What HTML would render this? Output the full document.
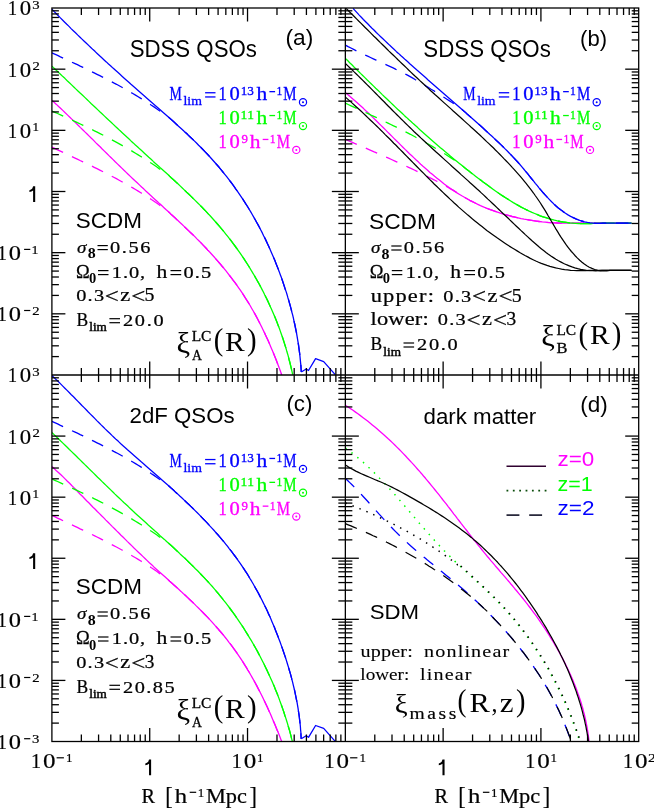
<!DOCTYPE html>
<html><head><meta charset="utf-8"><title>Correlation functions</title>
<style>
html,body{margin:0;padding:0;background:#fff;}
body{width:654px;height:808px;overflow:hidden;font-family:"Liberation Sans",sans-serif;}
svg{display:block;}
</style></head><body>
<svg width="654" height="808" viewBox="0 0 654 808">
<defs>
<clipPath id="ca"><rect x="51.9" y="8.0" width="293.45000000000005" height="367.0"/></clipPath>
<clipPath id="cb"><rect x="345.35" y="8.0" width="293.35" height="367.0"/></clipPath>
<clipPath id="cc"><rect x="51.9" y="375.0" width="293.45000000000005" height="366.5"/></clipPath>
<clipPath id="cd"><rect x="345.35" y="375.0" width="293.35" height="366.5"/></clipPath>
<clipPath id="cdd1"><rect x="345.35" y="375.0" width="112.64999999999998" height="366.5"/></clipPath>
<clipPath id="cdd2"><rect x="458" y="375.0" width="180.70000000000005" height="366.5"/></clipPath>
<clipPath id="cdh1"><rect x="345.35" y="375.0" width="143.64999999999998" height="366.5"/></clipPath>
<clipPath id="cdh2"><rect x="489" y="375.0" width="149.70000000000005" height="366.5"/></clipPath>
</defs>
<rect width="654" height="808" fill="#fff"/>
<g style="opacity:0.9999">
<path d="M51.9,9.2 L54.0,11.4 L56.1,13.5 L58.3,15.7 L60.4,17.9 L62.5,20.0 L64.7,22.2 L66.8,24.3 L69.0,26.4 L71.1,28.6 L73.3,30.7 L75.5,32.8 L77.6,34.9 L79.8,37.0 L82.0,39.1 L84.2,41.2 L86.4,43.3 L88.6,45.4 L90.8,47.5 L93.0,49.6 L95.2,51.6 L97.4,53.7 L99.6,55.8 L101.8,57.8 L104.1,59.9 L106.3,61.9 L108.5,64.0 L110.8,66.0 L113.0,68.1 L115.2,70.1 L117.5,72.1 L119.7,74.1 L122.0,76.2 L124.2,78.2 L126.5,80.2 L128.8,82.2 L131.0,84.3 L133.3,86.3 L135.6,88.3 L137.8,90.3 L140.1,92.3 L142.4,94.3 L144.7,96.3 L146.9,98.3 L149.2,100.3 L151.5,102.3 L153.8,104.3 L156.1,106.3 L158.4,108.3 L160.7,110.3 L162.9,112.3 L165.2,114.3 L167.5,116.3 L169.8,118.3 L172.1,120.3 L174.3,122.3 L176.6,124.4 L178.8,126.4 L181.1,128.5 L183.3,130.5 L185.5,132.6 L187.7,134.6 L189.9,136.7 L192.1,138.8 L194.3,140.9 L196.5,143.0 L198.6,145.2 L200.7,147.3 L202.9,149.5 L204.9,151.6 L207.0,153.8 L209.1,156.0 L211.1,158.2 L213.1,160.5 L215.1,162.8 L217.1,165.0 L219.1,167.3 L221.0,169.6 L222.9,172.0 L224.8,174.3 L226.7,176.7 L228.6,179.1 L230.4,181.5 L232.2,183.9 L234.0,186.3 L235.7,188.8 L237.5,191.3 L239.2,193.8 L240.9,196.3 L242.6,198.8 L244.2,201.3 L245.8,203.9 L247.5,206.5 L249.0,209.0 L250.6,211.6 L252.1,214.3 L253.6,216.9 L255.1,219.5 L256.6,222.2 L258.1,224.9 L259.5,227.5 L260.9,230.2 L262.3,232.9 L263.6,235.7 L265.0,238.4 L266.3,241.1 L267.6,243.9 L268.8,246.6 L270.1,249.4 L271.3,252.2 L272.5,255.0 L273.7,257.8 L274.9,260.6 L276.0,263.4 L277.1,266.2 L278.2,269.1 L279.3,271.9 L280.3,274.7 L281.4,277.6 L282.4,280.5 L283.3,283.3 L284.3,286.2 L285.2,289.1 L286.2,291.9 L287.1,294.8 L287.9,297.7 L288.8,300.6 L289.6,303.5 L290.4,306.4 L291.2,309.4 L291.9,312.3 L292.7,315.2 L293.4,318.2 L294.0,321.1 L294.7,324.0 L295.3,327.0 L295.9,330.0 L296.5,332.9 L297.0,335.9 L297.5,338.9 L298.0,341.8 L298.5,344.8 L298.9,347.8 L299.3,350.8 L299.7,353.8 L300.0,356.8 L300.3,359.9 L300.6,362.9 L300.9,365.9 L301.1,369.0 L301.3,372.0" fill="none" stroke="#0000ff" stroke-width="1.3" stroke-linejoin="round" stroke-linecap="butt" clip-path="url(#ca)"/>
<path d="M301.3,372.0 L306.2,369.0 L308.5,370.5 L315.6,358.7 L323.7,361.6 L335.2,374.6" fill="none" stroke="#0000ff" stroke-width="1.3" stroke-linejoin="round" stroke-linecap="butt" clip-path="url(#ca)"/>
<path d="M51.9,66.1 L54.1,68.2 L56.3,70.3 L58.5,72.4 L60.7,74.5 L62.9,76.6 L65.1,78.6 L67.2,80.7 L69.4,82.8 L71.6,84.9 L73.8,87.0 L76.0,89.1 L78.2,91.2 L80.4,93.3 L82.6,95.3 L84.8,97.4 L87.0,99.5 L89.2,101.6 L91.3,103.7 L93.5,105.7 L95.7,107.8 L97.9,109.9 L100.1,112.0 L102.3,114.0 L104.5,116.1 L106.7,118.2 L108.9,120.3 L111.1,122.3 L113.3,124.4 L115.5,126.5 L117.7,128.5 L119.9,130.6 L122.2,132.7 L124.4,134.7 L126.6,136.8 L128.8,138.8 L131.0,140.9 L133.2,142.9 L135.4,145.0 L137.7,147.0 L139.9,149.1 L142.1,151.1 L144.4,153.2 L146.6,155.2 L148.8,157.3 L151.1,159.3 L153.3,161.4 L155.5,163.4 L157.8,165.4 L160.0,167.5 L162.3,169.5 L164.5,171.5 L166.8,173.6 L169.0,175.6 L171.2,177.7 L173.5,179.7 L175.7,181.8 L177.9,183.8 L180.1,185.9 L182.3,188.0 L184.5,190.1 L186.7,192.2 L188.9,194.2 L191.1,196.4 L193.2,198.5 L195.4,200.6 L197.5,202.7 L199.7,204.9 L201.8,207.0 L203.9,209.2 L206.0,211.4 L208.0,213.6 L210.1,215.8 L212.1,218.0 L214.1,220.2 L216.1,222.5 L218.1,224.8 L220.1,227.1 L222.0,229.4 L223.9,231.7 L225.8,234.1 L227.7,236.4 L229.6,238.8 L231.4,241.2 L233.2,243.6 L235.0,246.0 L236.8,248.5 L238.5,250.9 L240.3,253.4 L242.0,255.9 L243.7,258.4 L245.3,260.9 L247.0,263.5 L248.6,266.0 L250.2,268.6 L251.7,271.2 L253.3,273.8 L254.8,276.4 L256.3,279.0 L257.8,281.6 L259.3,284.3 L260.7,286.9 L262.1,289.6 L263.5,292.3 L264.8,295.0 L266.2,297.7 L267.5,300.4 L268.8,303.2 L270.0,305.9 L271.3,308.7 L272.5,311.4 L273.7,314.2 L274.9,317.0 L276.0,319.8 L277.1,322.6 L278.2,325.5 L279.3,328.3 L280.3,331.1 L281.3,334.0 L282.3,336.8 L283.3,339.7 L284.2,342.6 L285.1,345.5 L286.0,348.4 L286.8,351.3 L287.7,354.2 L288.5,357.1 L289.2,360.0 L290.0,363.0 L290.7,365.9 L291.4,368.9 L292.1,371.8 L292.7,374.8" fill="none" stroke="#00ff00" stroke-width="1.3" stroke-linejoin="round" stroke-linecap="butt" clip-path="url(#ca)"/>
<path d="M51.9,100.2 L54.1,102.3 L56.4,104.4 L58.6,106.5 L60.8,108.5 L63.0,110.6 L65.2,112.8 L67.4,114.9 L69.6,117.0 L71.8,119.1 L74.0,121.2 L76.2,123.3 L78.4,125.5 L80.5,127.6 L82.7,129.7 L84.9,131.9 L87.1,134.0 L89.2,136.1 L91.4,138.3 L93.6,140.4 L95.7,142.6 L97.9,144.7 L100.1,146.8 L102.2,149.0 L104.4,151.1 L106.6,153.2 L108.7,155.4 L110.9,157.5 L113.1,159.6 L115.2,161.8 L117.4,163.9 L119.6,166.0 L121.8,168.1 L124.0,170.3 L126.2,172.4 L128.4,174.5 L130.6,176.6 L132.8,178.7 L135.0,180.8 L137.2,182.8 L139.4,184.9 L141.6,187.0 L143.9,189.1 L146.1,191.2 L148.3,193.2 L150.5,195.3 L152.8,197.4 L155.0,199.4 L157.3,201.5 L159.5,203.6 L161.7,205.6 L164.0,207.7 L166.2,209.8 L168.5,211.8 L170.7,213.9 L173.0,216.0 L175.2,218.0 L177.4,220.1 L179.7,222.2 L181.9,224.3 L184.1,226.4 L186.3,228.5 L188.5,230.6 L190.7,232.7 L192.9,234.8 L195.1,236.9 L197.2,239.1 L199.4,241.3 L201.5,243.4 L203.6,245.6 L205.7,247.8 L207.8,250.1 L209.9,252.3 L211.9,254.5 L214.0,256.8 L216.0,259.1 L218.0,261.4 L220.0,263.7 L221.9,266.0 L223.9,268.3 L225.8,270.7 L227.7,273.1 L229.5,275.5 L231.4,277.9 L233.2,280.3 L235.0,282.7 L236.8,285.2 L238.5,287.7 L240.3,290.2 L242.0,292.7 L243.6,295.2 L245.3,297.8 L246.9,300.3 L248.5,302.9 L250.1,305.5 L251.6,308.2 L253.1,310.8 L254.6,313.4 L256.1,316.1 L257.5,318.8 L258.9,321.5 L260.3,324.2 L261.7,327.0 L263.0,329.7 L264.3,332.4 L265.6,335.2 L266.9,338.0 L268.2,340.8 L269.4,343.6 L270.6,346.4 L271.8,349.2 L273.0,352.0 L274.1,354.8 L275.3,357.7 L276.4,360.5 L277.5,363.4 L278.6,366.2 L279.6,369.1 L280.7,371.9 L281.7,374.8" fill="none" stroke="#ff00ff" stroke-width="1.3" stroke-linejoin="round" stroke-linecap="butt" clip-path="url(#ca)"/>
<path d="M51.9,52.8 L54.7,54.1 L57.6,55.4 L60.4,56.8 L63.2,58.1 L66.1,59.4 L68.9,60.7 L71.7,62.1 L74.5,63.4 L77.4,64.7 L80.2,66.1 L83.0,67.4 L85.8,68.8 L88.6,70.1 L91.4,71.5 L94.2,72.9 L97.0,74.3 L99.8,75.7 L102.6,77.1 L105.4,78.5 L108.2,80.0 L111.0,81.4 L113.7,82.9 L116.5,84.3 L119.2,85.8 L121.9,87.3 L124.7,88.9 L127.4,90.4 L130.1,92.0 L132.8,93.5 L135.5,95.1 L138.2,96.8 L140.8,98.4 L143.5,100.0 L146.1,101.7 L148.8,103.4 L151.4,105.2 L154.0,106.9 L156.6,108.7 L159.1,110.5 L167.5,116.3 L169.8,118.3 L172.1,120.3 L174.3,122.3 L176.6,124.4 L178.8,126.4 L181.1,128.5 L183.3,130.5 L185.5,132.6 L187.7,134.6 L189.9,136.7 L192.1,138.8 L194.3,140.9 L196.5,143.0 L198.6,145.2 L200.7,147.3 L202.9,149.5 L204.9,151.6 L207.0,153.8 L209.1,156.0 L211.1,158.2 L213.1,160.5 L215.1,162.8 L217.1,165.0 L219.1,167.3 L221.0,169.6 L222.9,172.0 L224.8,174.3 L226.7,176.7 L228.6,179.1 L230.4,181.5 L232.2,183.9 L234.0,186.3 L235.7,188.8 L237.5,191.3 L239.2,193.8 L240.9,196.3 L242.6,198.8 L244.2,201.3 L245.8,203.9 L247.5,206.5 L249.0,209.0 L250.6,211.6 L252.1,214.3 L253.6,216.9 L255.1,219.5 L256.6,222.2 L258.1,224.9 L259.5,227.5 L260.9,230.2 L262.3,232.9 L263.6,235.7 L265.0,238.4 L266.3,241.1 L267.6,243.9 L268.8,246.6 L270.1,249.4 L271.3,252.2 L272.5,255.0 L273.7,257.8 L274.9,260.6 L276.0,263.4 L277.1,266.2 L278.2,269.1 L279.3,271.9 L280.3,274.7 L281.4,277.6 L282.4,280.5 L283.3,283.3 L284.3,286.2 L285.2,289.1 L286.2,291.9 L287.1,294.8 L287.9,297.7 L288.8,300.6 L289.6,303.5 L290.4,306.4 L291.2,309.4 L291.9,312.3 L292.7,315.2 L293.4,318.2 L294.0,321.1 L294.7,324.0 L295.3,327.0 L295.9,330.0 L296.5,332.9 L297.0,335.9 L297.5,338.9 L298.0,341.8 L298.5,344.8 L298.9,347.8 L299.3,350.8 L299.7,353.8 L300.0,356.8 L300.3,359.9 L300.6,362.9 L300.9,365.9 L301.1,369.0 L301.3,372.0" fill="none" stroke="#0000ff" stroke-width="1.3" stroke-linejoin="round" stroke-linecap="butt" stroke-dasharray="12.4 9.8" stroke-dashoffset="0" clip-path="url(#ca)"/>
<path d="M51.9,111.0 L54.8,112.3 L57.6,113.5 L60.5,114.8 L63.3,116.1 L66.2,117.4 L69.0,118.7 L71.8,120.0 L74.7,121.3 L77.5,122.7 L80.3,124.0 L83.2,125.3 L86.0,126.7 L88.8,128.0 L91.6,129.4 L94.4,130.8 L97.2,132.2 L100.0,133.6 L102.8,135.0 L105.5,136.5 L108.3,137.9 L111.1,139.4 L113.8,140.9 L116.6,142.4 L119.3,143.9 L122.0,145.4 L124.7,146.9 L127.5,148.5 L130.2,150.0 L132.8,151.6 L135.5,153.2 L138.2,154.9 L140.8,156.5 L143.5,158.2 L146.1,159.9 L148.8,161.6 L151.4,163.3 L154.0,165.0 L156.6,166.8 L159.1,168.6 L166.8,173.6 L169.0,175.6 L171.2,177.7 L173.5,179.7 L175.7,181.8 L177.9,183.8 L180.1,185.9 L182.3,188.0 L184.5,190.1 L186.7,192.2 L188.9,194.2 L191.1,196.4 L193.2,198.5 L195.4,200.6 L197.5,202.7 L199.7,204.9 L201.8,207.0 L203.9,209.2 L206.0,211.4 L208.0,213.6 L210.1,215.8 L212.1,218.0 L214.1,220.2 L216.1,222.5 L218.1,224.8 L220.1,227.1 L222.0,229.4 L223.9,231.7 L225.8,234.1 L227.7,236.4 L229.6,238.8 L231.4,241.2 L233.2,243.6 L235.0,246.0 L236.8,248.5 L238.5,250.9 L240.3,253.4 L242.0,255.9 L243.7,258.4 L245.3,260.9 L247.0,263.5 L248.6,266.0 L250.2,268.6 L251.7,271.2 L253.3,273.8 L254.8,276.4 L256.3,279.0 L257.8,281.6 L259.3,284.3 L260.7,286.9 L262.1,289.6 L263.5,292.3 L264.8,295.0 L266.2,297.7 L267.5,300.4 L268.8,303.2 L270.0,305.9 L271.3,308.7 L272.5,311.4 L273.7,314.2 L274.9,317.0 L276.0,319.8 L277.1,322.6 L278.2,325.5 L279.3,328.3 L280.3,331.1 L281.3,334.0 L282.3,336.8 L283.3,339.7 L284.2,342.6 L285.1,345.5 L286.0,348.4 L286.8,351.3 L287.7,354.2 L288.5,357.1 L289.2,360.0 L290.0,363.0 L290.7,365.9 L291.4,368.9 L292.1,371.8 L292.7,374.8" fill="none" stroke="#00ff00" stroke-width="1.3" stroke-linejoin="round" stroke-linecap="butt" stroke-dasharray="12.4 9.8" stroke-dashoffset="0" clip-path="url(#ca)"/>
<path d="M51.9,147.1 L54.7,148.4 L57.5,149.8 L60.4,151.1 L63.2,152.5 L66.0,153.8 L68.8,155.1 L71.7,156.5 L74.5,157.8 L77.3,159.1 L80.1,160.5 L82.9,161.8 L85.8,163.2 L88.6,164.6 L91.4,165.9 L94.2,167.3 L97.0,168.7 L99.8,170.1 L102.6,171.5 L105.4,172.9 L108.1,174.4 L110.9,175.8 L113.7,177.3 L116.4,178.7 L119.2,180.2 L121.9,181.7 L124.7,183.2 L127.4,184.8 L130.1,186.3 L132.8,187.9 L135.5,189.5 L138.2,191.1 L140.8,192.7 L143.5,194.4 L146.1,196.0 L148.8,197.7 L151.4,199.5 L154.0,201.2 L156.6,203.0 L159.1,204.8 L166.2,209.8 L168.5,211.8 L170.7,213.9 L173.0,216.0 L175.2,218.0 L177.4,220.1 L179.7,222.2 L181.9,224.3 L184.1,226.4 L186.3,228.5 L188.5,230.6 L190.7,232.7 L192.9,234.8 L195.1,236.9 L197.2,239.1 L199.4,241.3 L201.5,243.4 L203.6,245.6 L205.7,247.8 L207.8,250.1 L209.9,252.3 L211.9,254.5 L214.0,256.8 L216.0,259.1 L218.0,261.4 L220.0,263.7 L221.9,266.0 L223.9,268.3 L225.8,270.7 L227.7,273.1 L229.5,275.5 L231.4,277.9 L233.2,280.3 L235.0,282.7 L236.8,285.2 L238.5,287.7 L240.3,290.2 L242.0,292.7 L243.6,295.2 L245.3,297.8 L246.9,300.3 L248.5,302.9 L250.1,305.5 L251.6,308.2 L253.1,310.8 L254.6,313.4 L256.1,316.1 L257.5,318.8 L258.9,321.5 L260.3,324.2 L261.7,327.0 L263.0,329.7 L264.3,332.4 L265.6,335.2 L266.9,338.0 L268.2,340.8 L269.4,343.6 L270.6,346.4 L271.8,349.2 L273.0,352.0 L274.1,354.8 L275.3,357.7 L276.4,360.5 L277.5,363.4 L278.6,366.2 L279.6,369.1 L280.7,371.9 L281.7,374.8" fill="none" stroke="#ff00ff" stroke-width="1.3" stroke-linejoin="round" stroke-linecap="butt" stroke-dasharray="12.4 9.8" stroke-dashoffset="0" clip-path="url(#ca)"/>
<path d="M51.9,375.5 L54.1,377.6 L56.3,379.7 L58.5,381.8 L60.6,383.9 L62.8,386.1 L64.9,388.2 L67.1,390.4 L69.2,392.5 L71.3,394.7 L73.5,396.8 L75.6,399.0 L77.7,401.1 L79.8,403.3 L81.9,405.5 L84.1,407.6 L86.2,409.8 L88.3,412.0 L90.4,414.1 L92.6,416.3 L94.7,418.4 L96.8,420.6 L99.0,422.7 L101.1,424.9 L103.3,427.0 L105.4,429.1 L107.6,431.2 L109.8,433.3 L111.9,435.4 L114.1,437.5 L116.3,439.6 L118.6,441.6 L120.8,443.7 L123.0,445.7 L125.3,447.7 L127.5,449.8 L129.8,451.8 L132.1,453.8 L134.3,455.8 L136.6,457.8 L138.9,459.8 L141.2,461.8 L143.5,463.7 L145.7,465.7 L148.0,467.7 L150.3,469.7 L152.6,471.7 L154.9,473.7 L157.2,475.7 L159.5,477.7 L161.7,479.7 L164.0,481.7 L166.3,483.7 L168.6,485.7 L170.8,487.8 L173.1,489.8 L175.3,491.9 L177.6,493.9 L179.8,496.0 L182.0,498.0 L184.2,500.1 L186.4,502.2 L188.6,504.3 L190.8,506.4 L193.0,508.5 L195.1,510.6 L197.3,512.8 L199.4,514.9 L201.5,517.1 L203.6,519.3 L205.7,521.4 L207.8,523.6 L209.8,525.9 L211.9,528.1 L213.9,530.3 L215.9,532.6 L217.9,534.8 L219.9,537.1 L221.8,539.4 L223.8,541.7 L225.7,544.1 L227.6,546.4 L229.4,548.8 L231.3,551.2 L233.1,553.6 L234.9,556.0 L236.7,558.4 L238.4,560.9 L240.2,563.4 L241.9,565.9 L243.6,568.4 L245.2,570.9 L246.9,573.4 L248.5,576.0 L250.0,578.6 L251.6,581.2 L253.1,583.8 L254.6,586.5 L256.1,589.1 L257.6,591.8 L259.0,594.4 L260.4,597.1 L261.8,599.8 L263.2,602.6 L264.5,605.3 L265.9,608.0 L267.2,610.8 L268.4,613.6 L269.7,616.3 L270.9,619.1 L272.1,621.9 L273.3,624.7 L274.5,627.5 L275.6,630.4 L276.7,633.2 L277.8,636.0 L278.9,638.9 L280.0,641.7 L281.0,644.6 L282.0,647.4 L283.0,650.3 L284.0,653.2 L285.0,656.1 L285.9,658.9 L286.8,661.8 L287.7,664.7 L288.6,667.6 L289.4,670.5 L290.3,673.4 L291.1,676.3 L291.8,679.2 L292.6,682.1 L293.3,685.1 L294.0,688.0 L294.7,690.9 L295.3,693.9 L295.9,696.8 L296.5,699.8 L297.1,702.7 L297.6,705.7 L298.1,708.7 L298.5,711.7 L299.0,714.7 L299.4,717.7 L299.7,720.7 L300.1,723.7 L300.4,726.7 L300.6,729.7 L300.9,732.8 L301.0,735.8 L301.2,738.9" fill="none" stroke="#0000ff" stroke-width="1.3" stroke-linejoin="round" stroke-linecap="butt" clip-path="url(#cc)"/>
<path d="M301.3,738.8 L306.2,735.8 L308.5,737.3 L315.6,725.5 L323.7,728.4 L335.2,741.4" fill="none" stroke="#0000ff" stroke-width="1.3" stroke-linejoin="round" stroke-linecap="butt" clip-path="url(#cc)"/>
<path d="M51.9,432.5 L54.1,434.6 L56.3,436.7 L58.5,438.8 L60.7,441.0 L62.9,443.1 L65.1,445.2 L67.2,447.3 L69.4,449.5 L71.6,451.6 L73.8,453.7 L75.9,455.8 L78.1,458.0 L80.3,460.1 L82.4,462.2 L84.6,464.4 L86.8,466.5 L88.9,468.6 L91.1,470.8 L93.3,472.9 L95.4,475.0 L97.6,477.2 L99.8,479.3 L101.9,481.4 L104.1,483.5 L106.3,485.6 L108.5,487.8 L110.7,489.9 L112.9,492.0 L115.0,494.1 L117.2,496.2 L119.4,498.3 L121.6,500.4 L123.8,502.5 L126.1,504.6 L128.3,506.6 L130.5,508.7 L132.7,510.8 L135.0,512.9 L137.2,514.9 L139.5,517.0 L141.7,519.0 L144.0,521.1 L146.2,523.1 L148.5,525.2 L150.8,527.2 L153.0,529.2 L155.3,531.3 L157.6,533.3 L159.8,535.4 L162.1,537.4 L164.4,539.4 L166.6,541.5 L168.9,543.5 L171.2,545.6 L173.4,547.6 L175.7,549.7 L177.9,551.8 L180.1,553.9 L182.3,555.9 L184.6,558.0 L186.8,560.1 L188.9,562.2 L191.1,564.4 L193.3,566.5 L195.4,568.7 L197.6,570.8 L199.7,573.0 L201.8,575.2 L203.9,577.4 L206.0,579.6 L208.0,581.8 L210.1,584.1 L212.1,586.3 L214.1,588.6 L216.0,590.9 L218.0,593.2 L219.9,595.6 L221.8,597.9 L223.7,600.3 L225.6,602.7 L227.5,605.1 L229.3,607.5 L231.1,610.0 L232.9,612.4 L234.7,614.9 L236.4,617.4 L238.1,619.9 L239.8,622.4 L241.5,624.9 L243.2,627.4 L244.8,630.0 L246.4,632.6 L248.0,635.2 L249.6,637.8 L251.2,640.4 L252.7,643.0 L254.2,645.6 L255.7,648.3 L257.2,650.9 L258.6,653.6 L260.0,656.3 L261.4,659.0 L262.8,661.7 L264.2,664.4 L265.5,667.2 L266.8,669.9 L268.1,672.7 L269.4,675.5 L270.6,678.2 L271.9,681.0 L273.1,683.8 L274.3,686.6 L275.4,689.4 L276.6,692.3 L277.7,695.1 L278.8,697.9 L279.8,700.8 L280.9,703.7 L281.9,706.5 L282.9,709.4 L283.9,712.3 L284.8,715.2 L285.8,718.1 L286.7,721.0 L287.6,723.9 L288.4,726.8 L289.3,729.7 L290.1,732.7 L290.9,735.6 L291.6,738.6 L292.4,741.5" fill="none" stroke="#00ff00" stroke-width="1.3" stroke-linejoin="round" stroke-linecap="butt" clip-path="url(#cc)"/>
<path d="M51.9,466.6 L54.2,468.6 L56.4,470.7 L58.7,472.7 L60.9,474.8 L63.1,476.9 L65.3,479.1 L67.4,481.2 L69.6,483.3 L71.7,485.5 L73.9,487.6 L76.0,489.8 L78.1,492.0 L80.2,494.2 L82.4,496.3 L84.5,498.5 L86.6,500.7 L88.8,502.8 L90.9,505.0 L93.0,507.2 L95.2,509.3 L97.3,511.5 L99.5,513.6 L101.6,515.8 L103.8,517.9 L105.9,520.1 L108.1,522.3 L110.2,524.4 L112.4,526.6 L114.6,528.7 L116.7,530.9 L118.9,533.0 L121.0,535.2 L123.2,537.3 L125.3,539.4 L127.5,541.6 L129.7,543.7 L131.9,545.9 L134.0,548.0 L136.2,550.1 L138.4,552.2 L140.6,554.3 L142.8,556.4 L145.0,558.5 L147.2,560.6 L149.4,562.7 L151.7,564.8 L153.9,566.9 L156.1,568.9 L158.4,571.0 L160.6,573.0 L162.9,575.0 L165.2,577.1 L167.4,579.1 L169.7,581.2 L172.0,583.2 L174.2,585.2 L176.5,587.3 L178.7,589.3 L181.0,591.4 L183.2,593.5 L185.5,595.5 L187.7,597.6 L189.9,599.7 L192.1,601.8 L194.3,603.9 L196.5,606.1 L198.7,608.2 L200.8,610.4 L202.9,612.5 L205.1,614.7 L207.2,616.9 L209.3,619.1 L211.4,621.4 L213.4,623.6 L215.4,625.9 L217.5,628.2 L219.4,630.5 L221.4,632.8 L223.4,635.1 L225.3,637.5 L227.2,639.9 L229.0,642.3 L230.9,644.7 L232.7,647.2 L234.5,649.6 L236.3,652.1 L238.0,654.6 L239.7,657.1 L241.4,659.7 L243.0,662.2 L244.7,664.8 L246.3,667.4 L247.8,670.0 L249.4,672.6 L250.9,675.2 L252.4,677.9 L253.9,680.5 L255.4,683.2 L256.8,685.9 L258.2,688.6 L259.6,691.3 L261.0,694.0 L262.4,696.7 L263.7,699.5 L265.0,702.2 L266.3,705.0 L267.6,707.8 L268.8,710.5 L270.1,713.3 L271.3,716.1 L272.5,718.9 L273.7,721.7 L274.9,724.5 L276.1,727.4 L277.2,730.2 L278.4,733.0 L279.5,735.8 L280.6,738.7 L281.7,741.5" fill="none" stroke="#ff00ff" stroke-width="1.3" stroke-linejoin="round" stroke-linecap="butt" clip-path="url(#cc)"/>
<path d="M51.9,421.3 L54.7,422.6 L57.6,423.9 L60.4,425.3 L63.2,426.6 L66.1,427.9 L68.9,429.2 L71.7,430.6 L74.5,431.9 L77.4,433.2 L80.2,434.6 L83.0,435.9 L85.8,437.3 L88.6,438.6 L91.4,440.0 L94.2,441.4 L97.0,442.8 L99.8,444.2 L102.6,445.6 L105.4,447.0 L108.2,448.5 L111.0,449.9 L113.7,451.4 L116.5,452.8 L119.2,454.3 L121.9,455.8 L124.7,457.4 L127.4,458.9 L130.1,460.5 L132.8,462.0 L135.5,463.6 L138.2,465.3 L140.8,466.9 L143.5,468.5 L146.1,470.2 L148.8,471.9 L151.4,473.7 L154.0,475.4 L156.6,477.2 L159.1,479.0 L166.3,483.7 L168.6,485.7 L170.8,487.8 L173.1,489.8 L175.3,491.9 L177.6,493.9 L179.8,496.0 L182.0,498.0 L184.2,500.1 L186.4,502.2 L188.6,504.3 L190.8,506.4 L193.0,508.5 L195.1,510.6 L197.3,512.8 L199.4,514.9 L201.5,517.1 L203.6,519.3 L205.7,521.4 L207.8,523.6 L209.8,525.9 L211.9,528.1 L213.9,530.3 L215.9,532.6 L217.9,534.8 L219.9,537.1 L221.8,539.4 L223.8,541.7 L225.7,544.1 L227.6,546.4 L229.4,548.8 L231.3,551.2 L233.1,553.6 L234.9,556.0 L236.7,558.4 L238.4,560.9 L240.2,563.4 L241.9,565.9 L243.6,568.4 L245.2,570.9 L246.9,573.4 L248.5,576.0 L250.0,578.6 L251.6,581.2 L253.1,583.8 L254.6,586.5 L256.1,589.1 L257.6,591.8 L259.0,594.4 L260.4,597.1 L261.8,599.8 L263.2,602.6 L264.5,605.3 L265.9,608.0 L267.2,610.8 L268.4,613.6 L269.7,616.3 L270.9,619.1 L272.1,621.9 L273.3,624.7 L274.5,627.5 L275.6,630.4 L276.7,633.2 L277.8,636.0 L278.9,638.9 L280.0,641.7 L281.0,644.6 L282.0,647.4 L283.0,650.3 L284.0,653.2 L285.0,656.1 L285.9,658.9 L286.8,661.8 L287.7,664.7 L288.6,667.6 L289.4,670.5 L290.3,673.4 L291.1,676.3 L291.8,679.2 L292.6,682.1 L293.3,685.1 L294.0,688.0 L294.7,690.9 L295.3,693.9 L295.9,696.8 L296.5,699.8 L297.1,702.7 L297.6,705.7 L298.1,708.7 L298.5,711.7 L299.0,714.7 L299.4,717.7 L299.7,720.7 L300.1,723.7 L300.4,726.7 L300.6,729.7 L300.9,732.8 L301.0,735.8 L301.2,738.9" fill="none" stroke="#0000ff" stroke-width="1.3" stroke-linejoin="round" stroke-linecap="butt" stroke-dasharray="12.4 9.8" stroke-dashoffset="0" clip-path="url(#cc)"/>
<path d="M51.9,479.0 L54.8,480.3 L57.6,481.5 L60.5,482.8 L63.3,484.1 L66.2,485.4 L69.0,486.7 L71.8,488.0 L74.7,489.3 L77.5,490.7 L80.3,492.0 L83.2,493.3 L86.0,494.7 L88.8,496.0 L91.6,497.4 L94.4,498.8 L97.2,500.2 L100.0,501.6 L102.8,503.0 L105.5,504.5 L108.3,505.9 L111.1,507.4 L113.8,508.9 L116.6,510.4 L119.3,511.9 L122.0,513.4 L124.7,514.9 L127.5,516.5 L130.2,518.0 L132.8,519.6 L135.5,521.2 L138.2,522.9 L140.8,524.5 L143.5,526.2 L146.1,527.9 L148.8,529.6 L151.4,531.3 L154.0,533.0 L156.6,534.8 L159.1,536.6 L166.6,541.5 L168.9,543.5 L171.2,545.6 L173.4,547.6 L175.7,549.7 L177.9,551.8 L180.1,553.9 L182.3,555.9 L184.6,558.0 L186.8,560.1 L188.9,562.2 L191.1,564.4 L193.3,566.5 L195.4,568.7 L197.6,570.8 L199.7,573.0 L201.8,575.2 L203.9,577.4 L206.0,579.6 L208.0,581.8 L210.1,584.1 L212.1,586.3 L214.1,588.6 L216.0,590.9 L218.0,593.2 L219.9,595.6 L221.8,597.9 L223.7,600.3 L225.6,602.7 L227.5,605.1 L229.3,607.5 L231.1,610.0 L232.9,612.4 L234.7,614.9 L236.4,617.4 L238.1,619.9 L239.8,622.4 L241.5,624.9 L243.2,627.4 L244.8,630.0 L246.4,632.6 L248.0,635.2 L249.6,637.8 L251.2,640.4 L252.7,643.0 L254.2,645.6 L255.7,648.3 L257.2,650.9 L258.6,653.6 L260.0,656.3 L261.4,659.0 L262.8,661.7 L264.2,664.4 L265.5,667.2 L266.8,669.9 L268.1,672.7 L269.4,675.5 L270.6,678.2 L271.9,681.0 L273.1,683.8 L274.3,686.6 L275.4,689.4 L276.6,692.3 L277.7,695.1 L278.8,697.9 L279.8,700.8 L280.9,703.7 L281.9,706.5 L282.9,709.4 L283.9,712.3 L284.8,715.2 L285.8,718.1 L286.7,721.0 L287.6,723.9 L288.4,726.8 L289.3,729.7 L290.1,732.7 L290.9,735.6 L291.6,738.6 L292.4,741.5" fill="none" stroke="#00ff00" stroke-width="1.3" stroke-linejoin="round" stroke-linecap="butt" stroke-dasharray="12.4 9.8" stroke-dashoffset="0" clip-path="url(#cc)"/>
<path d="M51.9,515.4 L54.7,516.7 L57.5,518.1 L60.4,519.4 L63.2,520.8 L66.0,522.1 L68.8,523.4 L71.7,524.8 L74.5,526.1 L77.3,527.4 L80.1,528.8 L82.9,530.1 L85.8,531.5 L88.6,532.9 L91.4,534.2 L94.2,535.6 L97.0,537.0 L99.8,538.4 L102.6,539.8 L105.4,541.2 L108.1,542.7 L110.9,544.1 L113.7,545.6 L116.4,547.0 L119.2,548.5 L121.9,550.0 L124.7,551.5 L127.4,553.1 L130.1,554.6 L132.8,556.2 L135.5,557.8 L138.2,559.4 L140.8,561.0 L143.5,562.7 L146.1,564.3 L148.8,566.0 L151.4,567.8 L154.0,569.5 L156.6,571.3 L159.1,573.1 L167.4,579.1 L169.7,581.2 L172.0,583.2 L174.2,585.2 L176.5,587.3 L178.7,589.3 L181.0,591.4 L183.2,593.5 L185.5,595.5 L187.7,597.6 L189.9,599.7 L192.1,601.8 L194.3,603.9 L196.5,606.1 L198.7,608.2 L200.8,610.4 L202.9,612.5 L205.1,614.7 L207.2,616.9 L209.3,619.1 L211.4,621.4 L213.4,623.6 L215.4,625.9 L217.5,628.2 L219.4,630.5 L221.4,632.8 L223.4,635.1 L225.3,637.5 L227.2,639.9 L229.0,642.3 L230.9,644.7 L232.7,647.2 L234.5,649.6 L236.3,652.1 L238.0,654.6 L239.7,657.1 L241.4,659.7 L243.0,662.2 L244.7,664.8 L246.3,667.4 L247.8,670.0 L249.4,672.6 L250.9,675.2 L252.4,677.9 L253.9,680.5 L255.4,683.2 L256.8,685.9 L258.2,688.6 L259.6,691.3 L261.0,694.0 L262.4,696.7 L263.7,699.5 L265.0,702.2 L266.3,705.0 L267.6,707.8 L268.8,710.5 L270.1,713.3 L271.3,716.1 L272.5,718.9 L273.7,721.7 L274.9,724.5 L276.1,727.4 L277.2,730.2 L278.4,733.0 L279.5,735.8 L280.6,738.7 L281.7,741.5" fill="none" stroke="#ff00ff" stroke-width="1.3" stroke-linejoin="round" stroke-linecap="butt" stroke-dasharray="12.4 9.8" stroke-dashoffset="0" clip-path="url(#cc)"/>
<path d="M345.4,92.5 L347.7,94.5 L350.0,96.4 L352.3,98.4 L354.6,100.4 L356.9,102.5 L359.1,104.5 L361.4,106.6 L363.6,108.6 L365.8,110.7 L368.1,112.8 L370.3,114.9 L372.5,117.1 L374.7,119.2 L376.8,121.3 L379.0,123.5 L381.2,125.6 L383.4,127.8 L385.5,129.9 L387.7,132.1 L389.9,134.3 L392.0,136.4 L394.2,138.6 L396.4,140.8 L398.6,142.9 L400.8,145.1 L402.9,147.2 L405.1,149.4 L407.3,151.5 L409.5,153.7 L411.8,155.8 L414.0,157.9 L416.2,160.0 L418.5,162.1 L420.7,164.2 L423.0,166.3 L425.3,168.3 L427.6,170.3 L429.9,172.4 L432.3,174.3 L434.6,176.3 L437.0,178.2 L439.4,180.1 L441.8,182.0 L444.2,183.9 L446.6,185.7 L449.1,187.5 L451.6,189.2 L454.1,190.9 L456.6,192.6 L459.2,194.2 L461.8,195.8 L464.4,197.3 L467.0,198.8 L469.7,200.3 L472.4,201.7 L475.1,203.0 L477.8,204.3 L480.5,205.6 L483.3,206.8 L486.1,208.0 L488.9,209.1 L491.8,210.2 L494.6,211.2 L497.5,212.2 L500.4,213.2 L503.3,214.1 L506.2,214.9 L509.2,215.7 L512.1,216.5 L515.1,217.2 L518.1,217.9 L521.1,218.6 L524.1,219.2 L527.1,219.7 L530.1,220.2 L533.2,220.7 L536.2,221.1 L539.2,221.5 L542.3,221.9 L545.3,222.2 L548.4,222.5 L551.5,222.7 L554.5,222.9 L557.6,223.0 L560.7,223.1 L563.7,223.2 L566.8,223.2 L569.9,223.2 L572.9,223.2 L576.0,223.1 L631.5,223.1" fill="none" stroke="#ff00ff" stroke-width="1.3" stroke-linejoin="round" stroke-linecap="butt" clip-path="url(#cb)"/>
<path d="M345.4,139.4 L348.3,140.7 L351.2,141.9 L354.0,143.2 L356.9,144.4 L359.8,145.6 L362.7,146.9 L365.6,148.1 L368.5,149.4 L371.3,150.6 L374.2,151.9 L377.1,153.1 L380.0,154.4 L382.9,155.7 L385.7,156.9 L388.6,158.2 L391.5,159.5 L394.4,160.8 L397.2,162.1 L400.1,163.4 L402.9,164.7 L405.8,166.0 L408.6,167.3 L411.5,168.7 L414.3,170.0 L417.1,171.4 L420.0,172.8 L422.8,174.2 L425.6,175.6 L428.4,177.0 L431.2,178.4 L434.0,179.8 L436.8,181.3 L439.5,182.8 L442.3,184.3 L445.1,185.8 L447.8,187.3 L450.5,188.9 L453.3,190.4 L456.0,192.0 L464.4,197.3 L467.0,198.8 L469.7,200.3 L472.4,201.7 L475.1,203.0 L477.8,204.3 L480.5,205.6 L483.3,206.8 L486.1,208.0 L488.9,209.1 L491.8,210.2 L494.6,211.2 L497.5,212.2 L500.4,213.2 L503.3,214.1 L506.2,214.9 L509.2,215.7 L512.1,216.5 L515.1,217.2 L518.1,217.9 L521.1,218.6 L524.1,219.2 L527.1,219.7 L530.1,220.2 L533.2,220.7 L536.2,221.1 L539.2,221.5 L542.3,221.9 L545.3,222.2 L548.4,222.5 L551.5,222.7 L554.5,222.9 L557.6,223.0 L560.7,223.1 L563.7,223.2 L566.8,223.2 L569.9,223.2 L572.9,223.2 L576.0,223.1 L631.5,223.1" fill="none" stroke="#ff00ff" stroke-width="1.3" stroke-linejoin="round" stroke-linecap="butt" stroke-dasharray="12.4 9.8" stroke-dashoffset="0" clip-path="url(#cb)"/>
<path d="M345.4,58.4 L347.6,60.5 L349.7,62.7 L351.9,64.8 L354.0,67.0 L356.2,69.1 L358.4,71.2 L360.5,73.4 L362.7,75.5 L364.9,77.6 L367.0,79.8 L369.2,81.9 L371.4,84.0 L373.6,86.1 L375.7,88.2 L377.9,90.3 L380.1,92.4 L382.3,94.6 L384.5,96.7 L386.7,98.7 L388.8,100.8 L391.0,102.9 L393.2,105.0 L395.4,107.1 L397.6,109.2 L399.9,111.2 L402.1,113.3 L404.3,115.4 L406.5,117.4 L408.7,119.5 L411.0,121.5 L413.2,123.6 L415.4,125.6 L417.7,127.6 L419.9,129.7 L422.2,131.7 L424.4,133.7 L426.7,135.7 L429.0,137.7 L431.2,139.7 L433.5,141.7 L435.8,143.7 L438.1,145.7 L440.4,147.7 L442.7,149.6 L445.0,151.6 L447.4,153.5 L449.7,155.5 L452.0,157.4 L454.4,159.4 L456.7,161.3 L459.1,163.2 L461.4,165.1 L463.8,167.0 L466.2,168.9 L468.6,170.8 L471.0,172.7 L473.4,174.6 L475.8,176.4 L478.2,178.3 L480.7,180.1 L483.1,182.0 L485.6,183.8 L488.0,185.6 L490.5,187.4 L493.0,189.2 L495.5,191.0 L498.0,192.7 L500.5,194.5 L503.0,196.1 L505.6,197.8 L508.2,199.4 L510.7,201.0 L513.3,202.6 L515.9,204.1 L518.6,205.6 L521.2,207.1 L523.9,208.5 L526.6,209.8 L529.2,211.1 L532.0,212.4 L534.7,213.5 L537.5,214.7 L540.2,215.8 L543.1,216.8 L545.9,217.7 L548.7,218.6 L551.6,219.4 L554.5,220.2 L557.4,220.9 L560.3,221.5 L563.3,222.0 L566.3,222.4 L569.3,222.8 L572.3,223.1 L575.4,223.4 L578.4,223.5 L581.5,223.6 L584.6,223.7 L587.7,223.6 L590.8,223.5 L593.9,223.3 L597.0,223.1 L631.5,223.1" fill="none" stroke="#00ff00" stroke-width="1.3" stroke-linejoin="round" stroke-linecap="butt" clip-path="url(#cb)"/>
<path d="M345.4,103.2 L348.2,104.5 L351.1,105.8 L353.9,107.2 L356.8,108.5 L359.6,109.8 L362.5,111.1 L365.3,112.4 L368.2,113.7 L371.0,115.1 L373.8,116.4 L376.7,117.7 L379.5,119.1 L382.3,120.4 L385.2,121.8 L388.0,123.1 L390.8,124.5 L393.6,125.9 L396.4,127.2 L399.2,128.6 L402.0,130.0 L404.8,131.5 L407.6,132.9 L410.4,134.3 L413.1,135.8 L415.9,137.3 L418.7,138.7 L421.4,140.2 L424.2,141.8 L426.9,143.3 L429.6,144.8 L432.3,146.4 L435.0,148.0 L437.7,149.6 L440.4,151.2 L443.1,152.8 L445.8,154.5 L448.4,156.2 L451.0,157.9 L453.7,159.6 L461.4,165.1 L463.8,167.0 L466.2,168.9 L468.6,170.8 L471.0,172.7 L473.4,174.6 L475.8,176.4 L478.2,178.3 L480.7,180.1 L483.1,182.0 L485.6,183.8 L488.0,185.6 L490.5,187.4 L493.0,189.2 L495.5,191.0 L498.0,192.7 L500.5,194.5 L503.0,196.1 L505.6,197.8 L508.2,199.4 L510.7,201.0 L513.3,202.6 L515.9,204.1 L518.6,205.6 L521.2,207.1 L523.9,208.5 L526.6,209.8 L529.2,211.1 L532.0,212.4 L534.7,213.5 L537.5,214.7 L540.2,215.8 L543.1,216.8 L545.9,217.7 L548.7,218.6 L551.6,219.4 L554.5,220.2 L557.4,220.9 L560.3,221.5 L563.3,222.0 L566.3,222.4 L569.3,222.8 L572.3,223.1 L575.4,223.4 L578.4,223.5 L581.5,223.6 L584.6,223.7 L587.7,223.6 L590.8,223.5 L593.9,223.3 L597.0,223.1 L631.5,223.1" fill="none" stroke="#00ff00" stroke-width="1.3" stroke-linejoin="round" stroke-linecap="butt" stroke-dasharray="12.4 9.8" stroke-dashoffset="0" clip-path="url(#cb)"/>
<path d="M353.0,8.4 L355.1,10.6 L357.2,12.9 L359.2,15.1 L361.3,17.3 L363.4,19.5 L365.6,21.7 L367.7,23.8 L369.8,26.0 L372.0,28.2 L374.2,30.3 L376.3,32.5 L378.5,34.6 L380.7,36.7 L382.9,38.8 L385.1,40.9 L387.3,43.0 L389.5,45.1 L391.8,47.2 L394.0,49.3 L396.2,51.4 L398.5,53.4 L400.7,55.5 L403.0,57.5 L405.2,59.6 L407.5,61.6 L409.8,63.7 L412.1,65.7 L414.3,67.7 L416.6,69.8 L418.9,71.8 L421.2,73.8 L423.5,75.8 L425.8,77.8 L428.1,79.9 L430.4,81.9 L432.7,83.9 L435.0,85.9 L437.3,87.9 L439.6,89.9 L441.9,91.9 L444.2,93.9 L446.5,95.9 L448.8,97.9 L451.1,99.9 L453.4,101.9 L455.7,103.9 L458.0,105.9 L460.3,107.9 L462.6,109.9 L464.9,111.9 L467.1,114.0 L469.4,116.0 L471.7,118.0 L474.0,120.0 L476.2,122.0 L478.5,124.1 L480.8,126.1 L483.0,128.1 L485.3,130.2 L487.5,132.2 L489.7,134.3 L492.0,136.3 L494.2,138.4 L496.4,140.5 L498.6,142.5 L500.8,144.6 L503.0,146.7 L505.1,148.9 L507.3,151.0 L509.4,153.2 L511.5,155.4 L513.6,157.6 L515.6,159.8 L517.7,162.0 L519.7,164.3 L521.7,166.6 L523.7,169.0 L525.6,171.3 L527.6,173.7 L529.5,176.1 L531.4,178.5 L533.4,180.9 L535.3,183.3 L537.3,185.7 L539.2,188.1 L541.2,190.4 L543.2,192.8 L545.3,195.1 L547.4,197.4 L549.5,199.6 L551.6,201.8 L553.8,203.9 L556.0,205.9 L558.3,207.9 L560.7,209.8 L563.1,211.6 L565.5,213.3 L568.0,214.9 L570.6,216.4 L573.2,217.7 L575.9,218.9 L578.7,220.0 L581.5,221.0 L584.4,221.8 L587.4,222.4 L590.4,222.9 L593.4,223.2 L596.6,223.4 L599.8,223.3 L603.0,223.1 L631.5,223.1" fill="none" stroke="#0000ff" stroke-width="1.3" stroke-linejoin="round" stroke-linecap="butt" clip-path="url(#cb)"/>
<path d="M345.4,45.1 L348.1,46.6 L350.9,48.0 L353.6,49.4 L356.4,50.8 L359.2,52.2 L362.0,53.5 L364.8,54.9 L367.7,56.2 L370.5,57.5 L373.3,58.8 L376.1,60.1 L379.0,61.4 L381.8,62.7 L384.6,64.0 L387.5,65.3 L390.3,66.6 L393.1,67.9 L395.9,69.3 L398.7,70.6 L401.5,72.0 L404.2,73.5 L407.0,74.9 L409.7,76.4 L412.4,77.9 L415.1,79.5 L417.8,81.0 L420.5,82.6 L423.2,84.2 L425.8,85.9 L428.5,87.5 L431.1,89.2 L433.8,90.8 L436.4,92.5 L439.0,94.2 L441.6,95.9 L444.3,97.5 L446.9,99.2 L449.5,100.9 L452.1,102.5 L460.3,107.9 L462.6,109.9 L464.9,111.9 L467.1,114.0 L469.4,116.0 L471.7,118.0 L474.0,120.0 L476.2,122.0 L478.5,124.1 L480.8,126.1 L483.0,128.1 L485.3,130.2 L487.5,132.2 L489.7,134.3 L492.0,136.3 L494.2,138.4 L496.4,140.5 L498.6,142.5 L500.8,144.6 L503.0,146.7 L505.1,148.9 L507.3,151.0 L509.4,153.2 L511.5,155.4 L513.6,157.6 L515.6,159.8 L517.7,162.0 L519.7,164.3 L521.7,166.6 L523.7,169.0 L525.6,171.3 L527.6,173.7 L529.5,176.1 L531.4,178.5 L533.4,180.9 L535.3,183.3 L537.3,185.7 L539.2,188.1 L541.2,190.4 L543.2,192.8 L545.3,195.1 L547.4,197.4 L549.5,199.6 L551.6,201.8 L553.8,203.9 L556.0,205.9 L558.3,207.9 L560.7,209.8 L563.1,211.6 L565.5,213.3 L568.0,214.9 L570.6,216.4 L573.2,217.7 L575.9,218.9 L578.7,220.0 L581.5,221.0 L584.4,221.8 L587.4,222.4 L590.4,222.9 L593.4,223.2 L596.6,223.4 L599.8,223.3 L603.0,223.1 L631.5,223.1" fill="none" stroke="#0000ff" stroke-width="1.3" stroke-linejoin="round" stroke-linecap="butt" stroke-dasharray="12.4 9.8" stroke-dashoffset="0" clip-path="url(#cb)"/>
<path d="M346.1,8.4 L348.2,10.5 L350.4,12.7 L352.5,14.8 L354.7,17.0 L356.8,19.1 L358.9,21.3 L361.1,23.4 L363.2,25.5 L365.4,27.7 L367.5,29.8 L369.6,31.9 L371.8,34.1 L373.9,36.2 L376.1,38.3 L378.3,40.5 L380.4,42.6 L382.6,44.7 L384.7,46.8 L386.9,49.0 L389.0,51.1 L391.2,53.2 L393.4,55.3 L395.6,57.4 L397.7,59.5 L399.9,61.6 L402.1,63.7 L404.3,65.8 L406.5,67.9 L408.6,70.0 L410.8,72.1 L413.0,74.2 L415.2,76.3 L417.4,78.3 L419.6,80.4 L421.9,82.5 L424.1,84.5 L426.3,86.6 L428.5,88.6 L430.7,90.7 L433.0,92.7 L435.2,94.8 L437.5,96.8 L439.7,98.8 L442.0,100.9 L444.2,102.9 L446.5,104.9 L448.7,106.9 L451.0,108.9 L453.2,111.0 L455.5,113.0 L457.7,115.0 L460.0,117.0 L462.2,119.0 L464.5,121.1 L466.7,123.1 L469.0,125.1 L471.2,127.2 L473.5,129.2 L475.7,131.2 L477.9,133.3 L480.1,135.3 L482.3,137.4 L484.5,139.5 L486.7,141.6 L488.9,143.6 L491.1,145.7 L493.3,147.8 L495.4,150.0 L497.6,152.1 L499.7,154.2 L501.8,156.4 L503.9,158.6 L506.0,160.7 L508.1,162.9 L510.2,165.1 L512.2,167.4 L514.3,169.6 L516.3,171.9 L518.3,174.1 L520.3,176.4 L522.2,178.7 L524.2,181.1 L526.1,183.4 L528.0,185.8 L529.8,188.2 L531.7,190.6 L533.5,193.0 L535.2,195.5 L537.0,198.0 L538.7,200.5 L540.4,203.0 L542.0,205.6 L543.6,208.1 L545.2,210.7 L546.8,213.4 L548.3,216.0 L549.9,218.6 L551.4,221.2 L553.0,223.9 L554.5,226.5 L556.0,229.1 L557.6,231.7 L559.2,234.3 L560.8,236.9 L562.5,239.4 L564.2,241.9 L565.9,244.4 L567.7,246.8 L569.5,249.1 L571.4,251.5 L573.4,253.7 L575.4,256.0 L577.5,258.1 L579.7,260.2 L582.0,262.2 L584.3,264.0 L586.8,265.7 L589.3,267.2 L592.0,268.4 L594.7,269.5 L597.6,270.3 L600.5,270.8 L603.6,271.0 L606.8,270.8 L610.0,270.4 L631.5,270.4" fill="none" stroke="#000000" stroke-width="1.25" stroke-linejoin="round" stroke-linecap="butt" clip-path="url(#cb)"/>
<path d="M345.4,63.5 L347.6,65.6 L349.8,67.7 L352.0,69.8 L354.1,71.9 L356.3,74.0 L358.5,76.1 L360.6,78.2 L362.8,80.4 L364.9,82.5 L367.0,84.6 L369.2,86.8 L371.3,88.9 L373.5,91.1 L375.6,93.2 L377.7,95.4 L379.8,97.5 L382.0,99.7 L384.1,101.8 L386.2,104.0 L388.4,106.2 L390.5,108.3 L392.6,110.5 L394.8,112.6 L396.9,114.7 L399.1,116.9 L401.2,119.0 L403.4,121.1 L405.5,123.3 L407.7,125.4 L409.9,127.5 L412.1,129.6 L414.2,131.7 L416.4,133.8 L418.6,135.8 L420.8,137.9 L423.1,140.0 L425.3,142.0 L427.5,144.1 L429.7,146.1 L432.0,148.2 L434.2,150.2 L436.4,152.3 L438.7,154.3 L440.9,156.3 L443.2,158.4 L445.4,160.4 L447.7,162.4 L449.9,164.4 L452.1,166.5 L454.4,168.5 L456.6,170.5 L458.9,172.5 L461.1,174.6 L463.4,176.6 L465.6,178.6 L467.9,180.6 L470.1,182.7 L472.4,184.7 L474.6,186.7 L476.8,188.8 L479.1,190.8 L481.3,192.9 L483.5,194.9 L485.7,197.0 L487.9,199.1 L490.1,201.1 L492.3,203.2 L494.5,205.3 L496.7,207.4 L498.9,209.5 L501.1,211.6 L503.3,213.7 L505.5,215.7 L507.7,217.8 L509.8,219.9 L512.0,222.0 L514.2,224.1 L516.4,226.2 L518.6,228.3 L520.8,230.4 L523.1,232.5 L525.3,234.6 L527.5,236.6 L529.8,238.7 L532.0,240.8 L534.3,242.8 L536.6,244.8 L538.9,246.8 L541.2,248.7 L543.6,250.6 L546.0,252.5 L548.4,254.3 L550.9,256.0 L553.4,257.6 L555.9,259.2 L558.5,260.7 L561.1,262.1 L563.7,263.5 L566.4,264.7 L569.2,265.8 L572.0,266.9 L574.8,267.8 L577.7,268.6 L580.6,269.3 L583.5,269.8 L586.5,270.3 L589.5,270.6 L592.6,270.7 L595.7,270.8 L598.8,270.7 L602.0,270.4 L631.5,270.4" fill="none" stroke="#000000" stroke-width="1.25" stroke-linejoin="round" stroke-linecap="butt" clip-path="url(#cb)"/>
<path d="M345.4,97.1 L347.7,99.1 L350.0,101.1 L352.2,103.1 L354.5,105.2 L356.7,107.2 L359.0,109.3 L361.2,111.3 L363.4,113.4 L365.6,115.5 L367.8,117.6 L370.0,119.7 L372.2,121.8 L374.4,123.9 L376.6,126.0 L378.8,128.1 L380.9,130.3 L383.1,132.4 L385.2,134.6 L387.4,136.7 L389.5,138.8 L391.7,141.0 L393.8,143.2 L396.0,145.3 L398.1,147.5 L400.2,149.6 L402.4,151.8 L404.5,154.0 L406.6,156.1 L408.7,158.3 L410.9,160.5 L413.0,162.6 L415.1,164.8 L417.3,167.0 L419.4,169.1 L421.5,171.3 L423.7,173.4 L425.8,175.6 L428.0,177.7 L430.1,179.9 L432.3,182.0 L434.4,184.2 L436.6,186.3 L438.8,188.4 L441.0,190.5 L443.2,192.6 L445.4,194.7 L447.6,196.8 L449.8,198.9 L452.0,200.9 L454.2,203.0 L456.5,205.0 L458.7,207.1 L461.0,209.1 L463.3,211.1 L465.6,213.1 L467.9,215.1 L470.2,217.0 L472.5,219.0 L474.9,220.9 L477.2,222.8 L479.6,224.7 L482.0,226.6 L484.4,228.5 L486.8,230.4 L489.3,232.2 L491.7,234.0 L494.2,235.8 L496.7,237.6 L499.2,239.3 L501.7,241.0 L504.2,242.7 L506.8,244.4 L509.3,246.1 L511.9,247.7 L514.5,249.3 L517.1,250.9 L519.7,252.5 L522.3,254.0 L525.0,255.5 L527.7,256.9 L530.3,258.4 L533.1,259.7 L535.8,261.0 L538.5,262.2 L541.3,263.4 L544.1,264.4 L547.0,265.4 L549.9,266.3 L552.8,267.1 L555.7,267.9 L558.6,268.5 L561.6,269.1 L564.6,269.6 L567.6,269.9 L570.6,270.3 L573.7,270.5 L576.7,270.6 L579.8,270.7 L582.8,270.7 L585.9,270.6 L589.0,270.4 L631.5,270.4" fill="none" stroke="#000000" stroke-width="1.25" stroke-linejoin="round" stroke-linecap="butt" clip-path="url(#cb)"/>
<path d="M345.4,405.3 L348.0,407.0 L350.5,408.6 L353.0,410.3 L355.5,412.1 L357.9,413.8 L360.4,415.6 L362.8,417.4 L365.2,419.2 L367.6,421.1 L370.0,423.0 L372.3,424.9 L374.6,426.8 L377.0,428.7 L379.2,430.7 L381.5,432.7 L383.8,434.7 L386.0,436.7 L388.2,438.8 L390.4,440.8 L392.6,442.9 L394.8,445.0 L396.9,447.1 L399.1,449.3 L401.2,451.4 L403.3,453.6 L405.4,455.8 L407.4,458.0 L409.5,460.2 L411.5,462.4 L413.6,464.6 L415.6,466.9 L417.6,469.2 L419.6,471.4 L421.6,473.7 L423.5,476.0 L425.5,478.3 L427.4,480.6 L429.4,483.0 L431.3,485.3 L433.2,487.6 L435.1,490.0 L437.0,492.3 L438.9,494.7 L440.8,497.1 L442.6,499.5 L444.5,501.8 L446.4,504.2 L448.2,506.6 L450.1,509.0 L451.9,511.4 L453.7,513.8 L455.6,516.2 L457.4,518.6 L459.3,521.0 L461.1,523.4 L463.0,525.8 L464.8,528.2 L466.7,530.5 L468.5,532.9 L470.4,535.3 L472.2,537.7 L474.1,540.1 L476.0,542.4 L477.9,544.8 L479.8,547.1 L481.7,549.5 L483.6,551.8 L485.5,554.2 L487.4,556.5 L489.4,558.8 L491.3,561.1 L493.3,563.4 L495.2,565.7 L497.2,568.0 L499.2,570.3 L501.1,572.6 L503.1,574.9 L505.1,577.1 L507.0,579.4 L509.0,581.7 L510.9,584.0 L512.9,586.3 L514.8,588.7 L516.8,591.0 L518.7,593.3 L520.6,595.6 L522.5,598.0 L524.4,600.3 L526.2,602.7 L528.1,605.1 L529.9,607.5 L531.7,609.9 L533.5,612.3 L535.3,614.7 L537.1,617.2 L538.8,619.6 L540.5,622.1 L542.2,624.6 L543.9,627.1 L545.6,629.6 L547.2,632.2 L548.8,634.7 L550.4,637.3 L552.0,639.9 L553.6,642.5 L555.1,645.1 L556.7,647.7 L558.2,650.4 L559.6,653.0 L561.1,655.7 L562.5,658.4 L563.9,661.1 L565.3,663.8 L566.6,666.5 L567.9,669.2 L569.2,672.0 L570.5,674.8 L571.7,677.5 L572.9,680.3 L574.0,683.1 L575.2,685.9 L576.3,688.7 L577.3,691.6 L578.3,694.4 L579.3,697.3 L580.3,700.1 L581.2,703.0 L582.0,705.9 L582.9,708.8 L583.6,711.7 L584.4,714.6 L585.1,717.6 L585.7,720.5 L586.3,723.4 L586.9,726.4 L587.4,729.4 L587.9,732.3 L588.3,735.3 L588.7,738.3 L589.0,741.3" fill="none" stroke="#ff00ff" stroke-width="1.3" stroke-linejoin="round" stroke-linecap="butt" clip-path="url(#cd)"/>
<path d="M345.4,448.1 L347.9,449.9 L350.3,451.7 L352.8,453.6 L355.1,455.5 L357.5,457.4 L359.8,459.4 L362.1,461.4 L364.4,463.4 L366.6,465.5 L368.8,467.5 L371.0,469.6 L373.2,471.7 L375.4,473.8 L377.5,476.0 L379.6,478.2 L381.7,480.3 L383.8,482.5 L385.9,484.8 L387.9,487.0 L390.0,489.2 L392.0,491.5 L394.0,493.7 L396.0,496.0 L398.0,498.3 L400.0,500.6 L402.0,502.9 L404.0,505.2 L406.0,507.5 L407.9,509.8 L409.9,512.1 L411.9,514.4 L413.9,516.7 L415.8,519.1 L417.8,521.4 L419.8,523.7 L421.8,526.0 L423.8,528.3 L425.8,530.6 L427.8,532.8 L429.8,535.1 L431.8,537.4 L433.8,539.6 L435.9,541.9 L438.0,544.1 L440.0,546.3 L442.1,548.5 L444.2,550.7 L446.4,552.9 L448.5,555.0 L450.7,557.1 L452.9,559.3 L455.0,561.4 L457.3,563.5 L459.5,565.5 L461.7,567.6 L463.9,569.7 L466.2,571.7 L468.4,573.8 L470.6,575.8 L472.9,577.9 L475.1,580.0 L477.4,582.0 L479.6,584.1 L481.8,586.1 L484.0,588.2 L486.2,590.3 L488.4,592.4 L490.6,594.5 L492.8,596.7 L494.9,598.8 L497.1,601.0 L499.2,603.1 L501.3,605.3 L503.3,607.6 L505.4,609.8 L507.4,612.1 L509.4,614.3 L511.4,616.6 L513.4,619.0 L515.3,621.3 L517.2,623.6 L519.1,626.0 L521.0,628.4 L522.8,630.8 L524.7,633.2 L526.5,635.7 L528.2,638.1 L530.0,640.6 L531.8,643.1 L533.5,645.6 L535.2,648.1 L536.8,650.7 L538.5,653.2 L540.1,655.8 L541.7,658.4 L543.3,661.0 L544.9,663.6 L546.4,666.2 L548.0,668.9 L549.5,671.5 L550.9,674.2 L552.4,676.9 L553.8,679.6 L555.2,682.3 L556.6,685.0 L558.0,687.7 L559.3,690.4 L560.6,693.2 L561.9,695.9 L563.2,698.7 L564.5,701.5 L565.7,704.3 L566.9,707.1 L568.1,709.9 L569.3,712.7 L570.4,715.5 L571.5,718.4 L572.6,721.2 L573.7,724.1 L574.8,726.9 L575.8,729.8 L576.8,732.6 L577.8,735.5 L578.8,738.4 L579.7,741.3" fill="none" stroke="#00ff00" stroke-width="1.5" stroke-linejoin="round" stroke-linecap="butt" stroke-dasharray="1.5 6.0" stroke-dashoffset="0" clip-path="url(#cd)"/>
<path d="M345.4,478.4 L347.6,480.5 L349.8,482.6 L352.0,484.7 L354.1,486.9 L356.3,489.1 L358.4,491.3 L360.5,493.5 L362.5,495.7 L364.6,498.0 L366.7,500.3 L368.7,502.5 L370.7,504.8 L372.8,507.1 L374.8,509.3 L376.9,511.6 L378.9,513.9 L381.0,516.1 L383.0,518.4 L385.1,520.6 L387.2,522.9 L389.3,525.1 L391.4,527.3 L393.5,529.5 L395.6,531.6 L397.8,533.8 L400.0,535.9 L402.2,538.0 L404.4,540.1 L406.6,542.1 L408.9,544.2 L411.1,546.2 L413.4,548.2 L415.7,550.2 L418.0,552.2 L420.4,554.1 L422.7,556.1 L425.1,558.0 L427.4,560.0 L429.8,561.9 L432.1,563.8 L434.5,565.8 L436.9,567.7 L439.2,569.6 L441.6,571.5 L444.0,573.4 L446.4,575.4 L448.7,577.3 L451.1,579.2 L453.4,581.2 L455.8,583.1 L458.1,585.1 L460.4,587.1 L462.8,589.1 L465.1,591.1 L467.3,593.1 L469.6,595.1 L471.9,597.2 L474.2,599.2 L476.4,601.3 L478.6,603.4 L480.8,605.5 L483.0,607.6 L485.2,609.7 L487.4,611.9 L489.6,614.0 L491.7,616.2 L493.8,618.4 L495.9,620.6 L498.0,622.8 L500.1,625.0 L502.2,627.3 L504.2,629.5 L506.2,631.8 L508.2,634.1 L510.2,636.4 L512.2,638.7 L514.1,641.0 L516.1,643.4 L518.0,645.7 L519.9,648.1 L521.7,650.5 L523.6,652.9 L525.4,655.3 L527.2,657.7 L529.0,660.2 L530.8,662.7 L532.5,665.1 L534.2,667.6 L535.9,670.2 L537.6,672.7 L539.3,675.2 L540.9,677.8 L542.5,680.4 L544.1,683.0 L545.6,685.6 L547.2,688.2 L548.7,690.9 L550.1,693.5 L551.6,696.2 L553.0,698.9 L554.4,701.6 L555.8,704.3 L557.1,707.1 L558.4,709.8 L559.7,712.6 L561.0,715.4 L562.2,718.2 L563.4,721.0 L564.6,723.9 L565.7,726.8 L566.8,729.6 L567.9,732.5 L569.0,735.4 L570.0,738.4 L571.0,741.3" fill="none" stroke="#0000ff" stroke-width="1.3" stroke-linejoin="round" stroke-linecap="butt" stroke-dasharray="12.4 9.8" stroke-dashoffset="0" clip-path="url(#cd)"/>
<path d="M345.4,464.9 L347.9,466.6 L350.5,468.2 L353.2,469.6 L355.8,471.1 L358.5,472.4 L361.3,473.7 L364.0,474.9 L366.8,476.1 L369.6,477.3 L372.4,478.5 L375.2,479.7 L378.0,480.9 L380.8,482.0 L383.6,483.3 L386.3,484.5 L389.0,485.8 L391.8,487.1 L394.5,488.5 L397.2,489.9 L399.8,491.3 L402.5,492.7 L405.1,494.1 L407.8,495.6 L410.4,497.1 L413.1,498.6 L415.7,500.1 L418.3,501.6 L421.0,503.1 L423.6,504.7 L426.2,506.2 L428.8,507.8 L431.4,509.4 L434.0,511.0 L436.6,512.6 L439.2,514.3 L441.7,515.9 L444.3,517.6 L446.8,519.3 L449.3,521.0 L451.8,522.7 L454.3,524.5 L456.8,526.3 L459.3,528.1 L461.7,529.9 L464.1,531.7 L466.5,533.6 L468.9,535.5 L471.2,537.4 L473.5,539.4 L475.8,541.3 L478.1,543.3 L480.4,545.3 L482.6,547.4 L484.8,549.5 L487.0,551.6 L489.2,553.7 L491.3,555.8 L493.4,558.0 L495.5,560.1 L497.6,562.3 L499.6,564.6 L501.7,566.8 L503.7,569.1 L505.7,571.4 L507.7,573.7 L509.6,576.0 L511.5,578.3 L513.4,580.7 L515.3,583.0 L517.2,585.4 L519.1,587.8 L520.9,590.3 L522.7,592.7 L524.5,595.1 L526.3,597.6 L528.0,600.1 L529.8,602.6 L531.5,605.1 L533.2,607.6 L534.9,610.2 L536.6,612.7 L538.2,615.3 L539.9,617.8 L541.5,620.4 L543.1,623.0 L544.7,625.6 L546.3,628.2 L547.8,630.9 L549.3,633.5 L550.9,636.2 L552.3,638.8 L553.8,641.5 L555.3,644.2 L556.7,646.9 L558.1,649.6 L559.5,652.3 L560.8,655.0 L562.2,657.7 L563.5,660.5 L564.8,663.2 L566.0,666.0 L567.3,668.8 L568.5,671.6 L569.7,674.4 L570.8,677.2 L571.9,680.0 L573.0,682.8 L574.1,685.7 L575.1,688.5 L576.2,691.4 L577.1,694.2 L578.1,697.1 L579.0,700.0 L579.9,702.9 L580.8,705.8 L581.6,708.7 L582.4,711.6 L583.1,714.5 L583.9,717.5 L584.6,720.4 L585.2,723.4 L585.9,726.3 L586.4,729.3 L587.0,732.3 L587.5,735.3 L588.0,738.3 L588.4,741.3" fill="none" stroke="#000000" stroke-width="1.25" stroke-linejoin="round" stroke-linecap="butt" clip-path="url(#cd)"/>
<path d="M345.4,503.0 L348.2,504.1 L351.1,505.2 L353.9,506.3 L356.7,507.4 L359.5,508.6 L362.4,509.7 L365.2,510.9 L368.0,512.1 L370.8,513.4 L373.5,514.6 L376.3,515.9 L379.1,517.2 L381.8,518.5 L384.6,519.8 L387.3,521.1 L390.1,522.5 L392.8,523.8 L395.5,525.2 L398.2,526.7 L400.9,528.1 L403.6,529.5 L406.3,531.0 L408.9,532.5 L411.6,534.0 L414.2,535.5 L416.8,537.1 L419.5,538.6 L422.1,540.2 L424.7,541.8 L427.2,543.4 L429.8,545.1 L432.3,546.7 L434.9,548.4 L437.4,550.1 L439.9,551.8 L442.4,553.6 L444.9,555.3 L447.4,557.1 L449.8,558.9 L452.3,560.7 L454.7,562.5 L457.1,564.4 L459.5,566.3 L461.9,568.2 L464.2,570.1 L466.6,572.0 L468.9,574.0 L471.2,576.0 L473.5,577.9 L475.8,580.0 L478.0,582.0 L480.3,584.0 L482.5,586.1 L484.7,588.2 L486.9,590.3 L489.0,592.4 L491.2,594.6 L493.3,596.7 L495.4,598.9 L497.5,601.1 L499.6,603.3 L501.7,605.6 L503.7,607.8 L505.8,610.1 L507.8,612.4 L509.7,614.7 L511.7,617.0 L513.7,619.3 L515.6,621.7 L517.5,624.0 L519.4,626.4 L521.3,628.8 L523.1,631.2 L524.9,633.7 L526.7,636.1 L528.5,638.6 L530.3,641.0 L532.1,643.5 L533.8,646.0 L535.5,648.6 L537.2,651.1 L538.8,653.6 L540.5,656.2 L542.1,658.8 L543.7,661.4 L545.3,664.0 L546.8,666.6 L548.4,669.2 L549.9,671.9 L551.4,674.5 L552.8,677.2 L554.3,679.9 L555.7,682.6 L557.1,685.3 L558.5,688.0 L559.9,690.8 L561.2,693.5 L562.5,696.3 L563.8,699.0 L565.0,701.8 L566.3,704.6 L567.5,707.4 L568.7,710.2 L569.9,713.1 L571.0,715.9 L572.1,718.8 L573.2,721.6 L574.3,724.5 L575.3,727.4 L576.4,730.3 L577.3,733.2 L578.3,736.1 L579.3,739.0 L580.2,741.9" fill="none" stroke="#000000" stroke-width="1.5" stroke-linejoin="round" stroke-linecap="butt" stroke-dasharray="1.5 6.0" stroke-dashoffset="0" clip-path="url(#cdd1)"/>
<path d="M345.9,447.7 L348.4,449.5 L350.8,451.4 L353.3,453.3 L355.6,455.2 L358.0,457.1 L360.3,459.1 L362.6,461.0 L364.9,463.1 L367.1,465.1 L369.3,467.2 L371.5,469.3 L373.7,471.4 L375.9,473.5 L378.0,475.6 L380.1,477.8 L382.2,480.0 L384.3,482.2 L386.4,484.4 L388.4,486.6 L390.5,488.9 L392.5,491.1 L394.5,493.4 L396.5,495.7 L398.5,498.0 L400.5,500.2 L402.5,502.5 L404.5,504.8 L406.5,507.1 L408.4,509.5 L410.4,511.8 L412.4,514.1 L414.4,516.4 L416.3,518.7 L418.3,521.0 L420.3,523.3 L422.3,525.6 L424.3,527.9 L426.3,530.2 L428.3,532.5 L430.3,534.8 L432.3,537.0 L434.3,539.3 L436.4,541.5 L438.5,543.8 L440.5,546.0 L442.6,548.2 L444.7,550.3 L446.9,552.5 L449.0,554.7 L451.2,556.8 L453.4,558.9 L455.5,561.0 L457.8,563.1 L460.0,565.2 L462.2,567.3 L464.4,569.3 L466.7,571.4 L468.9,573.4 L471.1,575.5 L473.4,577.5 L475.6,579.6 L477.9,581.7 L480.1,583.7 L482.3,585.8 L484.5,587.9 L486.7,590.0 L488.9,592.1 L491.1,594.2 L493.3,596.3 L495.4,598.4 L497.6,600.6 L499.7,602.8 L501.8,605.0 L503.8,607.2 L505.9,609.4 L507.9,611.7 L509.9,614.0 L511.9,616.3 L513.9,618.6 L515.8,620.9 L517.7,623.3 L519.6,625.7 L521.5,628.1 L523.3,630.5 L525.2,632.9 L527.0,635.3 L528.7,637.8 L530.5,640.3 L532.3,642.8 L534.0,645.3 L535.7,647.8 L537.3,650.3 L539.0,652.9 L540.6,655.5 L542.2,658.0 L543.8,660.6 L545.4,663.3 L546.9,665.9 L548.5,668.5 L550.0,671.2 L551.4,673.8 L552.9,676.5 L554.3,679.2 L555.7,681.9 L557.1,684.6 L558.5,687.3 L559.8,690.1 L561.1,692.8 L562.4,695.6 L563.7,698.4 L565.0,701.1 L566.2,703.9 L567.4,706.7 L568.6,709.5 L569.8,712.3 L570.9,715.2 L572.0,718.0 L573.1,720.9 L574.2,723.7 L575.3,726.6 L576.3,729.4 L577.3,732.3 L578.3,735.2 L579.3,738.1 L580.2,741.0" fill="none" stroke="#000000" stroke-width="1.5" stroke-linejoin="round" stroke-linecap="butt" stroke-dasharray="1.5 6.0" stroke-dashoffset="-0.2" clip-path="url(#cdd2)"/>
<path d="M345.4,523.7 L348.2,524.8 L351.0,525.9 L353.7,527.1 L356.5,528.3 L359.3,529.5 L362.1,530.7 L364.9,531.9 L367.6,533.1 L370.4,534.4 L373.1,535.7 L375.9,536.9 L378.6,538.2 L381.4,539.6 L384.1,540.9 L386.8,542.3 L389.5,543.6 L392.2,545.0 L394.9,546.4 L397.6,547.8 L400.3,549.3 L403.0,550.7 L405.6,552.2 L408.3,553.7 L410.9,555.2 L413.6,556.7 L416.2,558.2 L418.8,559.8 L421.4,561.3 L424.0,562.9 L426.6,564.5 L429.1,566.2 L431.7,567.8 L434.2,569.5 L436.7,571.1 L439.3,572.8 L441.8,574.5 L444.3,576.3 L446.7,578.0 L449.2,579.8 L451.6,581.6 L454.1,583.4 L456.5,585.2 L458.9,587.1 L461.3,588.9 L463.6,590.8 L466.0,592.7 L468.3,594.6 L470.7,596.5 L473.0,598.5 L475.3,600.5 L477.5,602.5 L479.8,604.5 L482.0,606.5 L484.2,608.6 L486.4,610.6 L488.6,612.7 L490.8,614.8 L492.9,617.0 L495.0,619.1 L497.2,621.3 L499.2,623.5 L501.3,625.7 L503.4,627.9 L505.4,630.1 L507.4,632.4 L509.4,634.6 L511.4,636.9 L513.3,639.2 L515.2,641.6 L517.1,643.9 L519.0,646.3 L520.9,648.6 L522.7,651.0 L524.5,653.4 L526.3,655.9 L528.1,658.3 L529.9,660.8 L531.6,663.2 L533.3,665.7 L535.0,668.2 L536.7,670.8 L538.3,673.3 L539.9,675.9 L541.5,678.4 L543.1,681.0 L544.7,683.6 L546.2,686.2 L547.7,688.9 L549.2,691.5 L550.6,694.2 L552.0,696.9 L553.4,699.6 L554.8,702.3 L556.2,705.0 L557.5,707.7 L558.8,710.5 L560.1,713.3 L561.3,716.0 L562.5,718.8 L563.7,721.7 L564.9,724.5 L566.1,727.3 L567.2,730.2 L568.3,733.0 L569.3,735.9 L570.4,738.8 L571.4,741.7" fill="none" stroke="#000000" stroke-width="1.25" stroke-linejoin="round" stroke-linecap="butt" stroke-dasharray="12.4 9.8" stroke-dashoffset="0" clip-path="url(#cdh1)"/>
<path d="M345.7,478.7 L347.9,480.8 L350.1,482.9 L352.3,485.0 L354.4,487.2 L356.6,489.4 L358.7,491.6 L360.8,493.8 L362.8,496.0 L364.9,498.3 L367.0,500.6 L369.0,502.8 L371.0,505.1 L373.1,507.4 L375.1,509.6 L377.2,511.9 L379.2,514.2 L381.3,516.4 L383.3,518.7 L385.4,520.9 L387.5,523.2 L389.6,525.4 L391.7,527.6 L393.8,529.8 L395.9,531.9 L398.1,534.1 L400.3,536.2 L402.5,538.3 L404.7,540.4 L406.9,542.4 L409.2,544.5 L411.4,546.5 L413.7,548.5 L416.0,550.5 L418.3,552.5 L420.7,554.4 L423.0,556.4 L425.4,558.3 L427.7,560.3 L430.1,562.2 L432.4,564.1 L434.8,566.1 L437.2,568.0 L439.5,569.9 L441.9,571.8 L444.3,573.7 L446.7,575.7 L449.0,577.6 L451.4,579.5 L453.7,581.5 L456.1,583.4 L458.4,585.4 L460.7,587.4 L463.1,589.4 L465.4,591.4 L467.6,593.4 L469.9,595.4 L472.2,597.5 L474.5,599.5 L476.7,601.6 L478.9,603.7 L481.1,605.8 L483.3,607.9 L485.5,610.0 L487.7,612.2 L489.9,614.3 L492.0,616.5 L494.1,618.7 L496.2,620.9 L498.3,623.1 L500.4,625.3 L502.5,627.6 L504.5,629.8 L506.5,632.1 L508.5,634.4 L510.5,636.7 L512.5,639.0 L514.4,641.3 L516.4,643.7 L518.3,646.0 L520.2,648.4 L522.0,650.8 L523.9,653.2 L525.7,655.6 L527.5,658.0 L529.3,660.5 L531.1,663.0 L532.8,665.4 L534.5,667.9 L536.2,670.5 L537.9,673.0 L539.6,675.5 L541.2,678.1 L542.8,680.7 L544.4,683.3 L545.9,685.9 L547.5,688.5 L549.0,691.2 L550.4,693.8 L551.9,696.5 L553.3,699.2 L554.7,701.9 L556.1,704.6 L557.4,707.4 L558.7,710.1 L560.0,712.9 L561.3,715.7 L562.5,718.5 L563.7,721.3 L564.9,724.2 L566.0,727.1 L567.1,729.9 L568.2,732.8 L569.3,735.7 L570.3,738.7 L571.3,741.6" fill="none" stroke="#000000" stroke-width="1.25" stroke-linejoin="round" stroke-linecap="butt" stroke-dasharray="12.4 9.8" stroke-dashoffset="-2.2" clip-path="url(#cdh2)"/>
<line x1="506.50" y1="466.20" x2="546.00" y2="466.20" stroke="#300030" stroke-width="1.5"/>
<path d="M506.5,490.7 L546.5,490.7" stroke="#0b4d0b" stroke-width="1.8" stroke-dasharray="1.8 4.56" fill="none"/>
<line x1="506.50" y1="515.10" x2="519.40" y2="515.10" stroke="#000018" stroke-width="1.5"/>
<line x1="529.20" y1="515.10" x2="542.10" y2="515.10" stroke="#000018" stroke-width="1.5"/>
<line x1="81.35" y1="8.00" x2="81.35" y2="15.00" stroke="#000" stroke-width="1.3"/>
<line x1="81.35" y1="368.00" x2="81.35" y2="382.00" stroke="#000" stroke-width="1.3"/>
<line x1="81.35" y1="741.50" x2="81.35" y2="734.50" stroke="#000" stroke-width="1.3"/>
<line x1="98.57" y1="8.00" x2="98.57" y2="15.00" stroke="#000" stroke-width="1.3"/>
<line x1="98.57" y1="368.00" x2="98.57" y2="382.00" stroke="#000" stroke-width="1.3"/>
<line x1="98.57" y1="741.50" x2="98.57" y2="734.50" stroke="#000" stroke-width="1.3"/>
<line x1="110.79" y1="8.00" x2="110.79" y2="15.00" stroke="#000" stroke-width="1.3"/>
<line x1="110.79" y1="368.00" x2="110.79" y2="382.00" stroke="#000" stroke-width="1.3"/>
<line x1="110.79" y1="741.50" x2="110.79" y2="734.50" stroke="#000" stroke-width="1.3"/>
<line x1="120.27" y1="8.00" x2="120.27" y2="15.00" stroke="#000" stroke-width="1.3"/>
<line x1="120.27" y1="368.00" x2="120.27" y2="382.00" stroke="#000" stroke-width="1.3"/>
<line x1="120.27" y1="741.50" x2="120.27" y2="734.50" stroke="#000" stroke-width="1.3"/>
<line x1="128.02" y1="8.00" x2="128.02" y2="15.00" stroke="#000" stroke-width="1.3"/>
<line x1="128.02" y1="368.00" x2="128.02" y2="382.00" stroke="#000" stroke-width="1.3"/>
<line x1="128.02" y1="741.50" x2="128.02" y2="734.50" stroke="#000" stroke-width="1.3"/>
<line x1="134.56" y1="8.00" x2="134.56" y2="15.00" stroke="#000" stroke-width="1.3"/>
<line x1="134.56" y1="368.00" x2="134.56" y2="382.00" stroke="#000" stroke-width="1.3"/>
<line x1="134.56" y1="741.50" x2="134.56" y2="734.50" stroke="#000" stroke-width="1.3"/>
<line x1="140.24" y1="8.00" x2="140.24" y2="15.00" stroke="#000" stroke-width="1.3"/>
<line x1="140.24" y1="368.00" x2="140.24" y2="382.00" stroke="#000" stroke-width="1.3"/>
<line x1="140.24" y1="741.50" x2="140.24" y2="734.50" stroke="#000" stroke-width="1.3"/>
<line x1="145.24" y1="8.00" x2="145.24" y2="15.00" stroke="#000" stroke-width="1.3"/>
<line x1="145.24" y1="368.00" x2="145.24" y2="382.00" stroke="#000" stroke-width="1.3"/>
<line x1="145.24" y1="741.50" x2="145.24" y2="734.50" stroke="#000" stroke-width="1.3"/>
<line x1="149.72" y1="8.00" x2="149.72" y2="21.50" stroke="#000" stroke-width="1.3"/>
<line x1="149.72" y1="361.50" x2="149.72" y2="388.50" stroke="#000" stroke-width="1.3"/>
<line x1="149.72" y1="741.50" x2="149.72" y2="728.00" stroke="#000" stroke-width="1.3"/>
<line x1="179.16" y1="8.00" x2="179.16" y2="15.00" stroke="#000" stroke-width="1.3"/>
<line x1="179.16" y1="368.00" x2="179.16" y2="382.00" stroke="#000" stroke-width="1.3"/>
<line x1="179.16" y1="741.50" x2="179.16" y2="734.50" stroke="#000" stroke-width="1.3"/>
<line x1="196.39" y1="8.00" x2="196.39" y2="15.00" stroke="#000" stroke-width="1.3"/>
<line x1="196.39" y1="368.00" x2="196.39" y2="382.00" stroke="#000" stroke-width="1.3"/>
<line x1="196.39" y1="741.50" x2="196.39" y2="734.50" stroke="#000" stroke-width="1.3"/>
<line x1="208.61" y1="8.00" x2="208.61" y2="15.00" stroke="#000" stroke-width="1.3"/>
<line x1="208.61" y1="368.00" x2="208.61" y2="382.00" stroke="#000" stroke-width="1.3"/>
<line x1="208.61" y1="741.50" x2="208.61" y2="734.50" stroke="#000" stroke-width="1.3"/>
<line x1="218.09" y1="8.00" x2="218.09" y2="15.00" stroke="#000" stroke-width="1.3"/>
<line x1="218.09" y1="368.00" x2="218.09" y2="382.00" stroke="#000" stroke-width="1.3"/>
<line x1="218.09" y1="741.50" x2="218.09" y2="734.50" stroke="#000" stroke-width="1.3"/>
<line x1="225.83" y1="8.00" x2="225.83" y2="15.00" stroke="#000" stroke-width="1.3"/>
<line x1="225.83" y1="368.00" x2="225.83" y2="382.00" stroke="#000" stroke-width="1.3"/>
<line x1="225.83" y1="741.50" x2="225.83" y2="734.50" stroke="#000" stroke-width="1.3"/>
<line x1="232.38" y1="8.00" x2="232.38" y2="15.00" stroke="#000" stroke-width="1.3"/>
<line x1="232.38" y1="368.00" x2="232.38" y2="382.00" stroke="#000" stroke-width="1.3"/>
<line x1="232.38" y1="741.50" x2="232.38" y2="734.50" stroke="#000" stroke-width="1.3"/>
<line x1="238.05" y1="8.00" x2="238.05" y2="15.00" stroke="#000" stroke-width="1.3"/>
<line x1="238.05" y1="368.00" x2="238.05" y2="382.00" stroke="#000" stroke-width="1.3"/>
<line x1="238.05" y1="741.50" x2="238.05" y2="734.50" stroke="#000" stroke-width="1.3"/>
<line x1="243.06" y1="8.00" x2="243.06" y2="15.00" stroke="#000" stroke-width="1.3"/>
<line x1="243.06" y1="368.00" x2="243.06" y2="382.00" stroke="#000" stroke-width="1.3"/>
<line x1="243.06" y1="741.50" x2="243.06" y2="734.50" stroke="#000" stroke-width="1.3"/>
<line x1="247.53" y1="8.00" x2="247.53" y2="21.50" stroke="#000" stroke-width="1.3"/>
<line x1="247.53" y1="361.50" x2="247.53" y2="388.50" stroke="#000" stroke-width="1.3"/>
<line x1="247.53" y1="741.50" x2="247.53" y2="728.00" stroke="#000" stroke-width="1.3"/>
<line x1="276.98" y1="8.00" x2="276.98" y2="15.00" stroke="#000" stroke-width="1.3"/>
<line x1="276.98" y1="368.00" x2="276.98" y2="382.00" stroke="#000" stroke-width="1.3"/>
<line x1="276.98" y1="741.50" x2="276.98" y2="734.50" stroke="#000" stroke-width="1.3"/>
<line x1="294.20" y1="8.00" x2="294.20" y2="15.00" stroke="#000" stroke-width="1.3"/>
<line x1="294.20" y1="368.00" x2="294.20" y2="382.00" stroke="#000" stroke-width="1.3"/>
<line x1="294.20" y1="741.50" x2="294.20" y2="734.50" stroke="#000" stroke-width="1.3"/>
<line x1="306.42" y1="8.00" x2="306.42" y2="15.00" stroke="#000" stroke-width="1.3"/>
<line x1="306.42" y1="368.00" x2="306.42" y2="382.00" stroke="#000" stroke-width="1.3"/>
<line x1="306.42" y1="741.50" x2="306.42" y2="734.50" stroke="#000" stroke-width="1.3"/>
<line x1="315.90" y1="8.00" x2="315.90" y2="15.00" stroke="#000" stroke-width="1.3"/>
<line x1="315.90" y1="368.00" x2="315.90" y2="382.00" stroke="#000" stroke-width="1.3"/>
<line x1="315.90" y1="741.50" x2="315.90" y2="734.50" stroke="#000" stroke-width="1.3"/>
<line x1="323.65" y1="8.00" x2="323.65" y2="15.00" stroke="#000" stroke-width="1.3"/>
<line x1="323.65" y1="368.00" x2="323.65" y2="382.00" stroke="#000" stroke-width="1.3"/>
<line x1="323.65" y1="741.50" x2="323.65" y2="734.50" stroke="#000" stroke-width="1.3"/>
<line x1="330.20" y1="8.00" x2="330.20" y2="15.00" stroke="#000" stroke-width="1.3"/>
<line x1="330.20" y1="368.00" x2="330.20" y2="382.00" stroke="#000" stroke-width="1.3"/>
<line x1="330.20" y1="741.50" x2="330.20" y2="734.50" stroke="#000" stroke-width="1.3"/>
<line x1="335.87" y1="8.00" x2="335.87" y2="15.00" stroke="#000" stroke-width="1.3"/>
<line x1="335.87" y1="368.00" x2="335.87" y2="382.00" stroke="#000" stroke-width="1.3"/>
<line x1="335.87" y1="741.50" x2="335.87" y2="734.50" stroke="#000" stroke-width="1.3"/>
<line x1="340.87" y1="8.00" x2="340.87" y2="15.00" stroke="#000" stroke-width="1.3"/>
<line x1="340.87" y1="368.00" x2="340.87" y2="382.00" stroke="#000" stroke-width="1.3"/>
<line x1="340.87" y1="741.50" x2="340.87" y2="734.50" stroke="#000" stroke-width="1.3"/>
<line x1="374.79" y1="8.00" x2="374.79" y2="15.00" stroke="#000" stroke-width="1.3"/>
<line x1="374.79" y1="368.00" x2="374.79" y2="382.00" stroke="#000" stroke-width="1.3"/>
<line x1="374.79" y1="741.50" x2="374.79" y2="734.50" stroke="#000" stroke-width="1.3"/>
<line x1="392.00" y1="8.00" x2="392.00" y2="15.00" stroke="#000" stroke-width="1.3"/>
<line x1="392.00" y1="368.00" x2="392.00" y2="382.00" stroke="#000" stroke-width="1.3"/>
<line x1="392.00" y1="741.50" x2="392.00" y2="734.50" stroke="#000" stroke-width="1.3"/>
<line x1="404.22" y1="8.00" x2="404.22" y2="15.00" stroke="#000" stroke-width="1.3"/>
<line x1="404.22" y1="368.00" x2="404.22" y2="382.00" stroke="#000" stroke-width="1.3"/>
<line x1="404.22" y1="741.50" x2="404.22" y2="734.50" stroke="#000" stroke-width="1.3"/>
<line x1="413.70" y1="8.00" x2="413.70" y2="15.00" stroke="#000" stroke-width="1.3"/>
<line x1="413.70" y1="368.00" x2="413.70" y2="382.00" stroke="#000" stroke-width="1.3"/>
<line x1="413.70" y1="741.50" x2="413.70" y2="734.50" stroke="#000" stroke-width="1.3"/>
<line x1="421.44" y1="8.00" x2="421.44" y2="15.00" stroke="#000" stroke-width="1.3"/>
<line x1="421.44" y1="368.00" x2="421.44" y2="382.00" stroke="#000" stroke-width="1.3"/>
<line x1="421.44" y1="741.50" x2="421.44" y2="734.50" stroke="#000" stroke-width="1.3"/>
<line x1="427.99" y1="8.00" x2="427.99" y2="15.00" stroke="#000" stroke-width="1.3"/>
<line x1="427.99" y1="368.00" x2="427.99" y2="382.00" stroke="#000" stroke-width="1.3"/>
<line x1="427.99" y1="741.50" x2="427.99" y2="734.50" stroke="#000" stroke-width="1.3"/>
<line x1="433.66" y1="8.00" x2="433.66" y2="15.00" stroke="#000" stroke-width="1.3"/>
<line x1="433.66" y1="368.00" x2="433.66" y2="382.00" stroke="#000" stroke-width="1.3"/>
<line x1="433.66" y1="741.50" x2="433.66" y2="734.50" stroke="#000" stroke-width="1.3"/>
<line x1="438.66" y1="8.00" x2="438.66" y2="15.00" stroke="#000" stroke-width="1.3"/>
<line x1="438.66" y1="368.00" x2="438.66" y2="382.00" stroke="#000" stroke-width="1.3"/>
<line x1="438.66" y1="741.50" x2="438.66" y2="734.50" stroke="#000" stroke-width="1.3"/>
<line x1="443.13" y1="8.00" x2="443.13" y2="21.50" stroke="#000" stroke-width="1.3"/>
<line x1="443.13" y1="361.50" x2="443.13" y2="388.50" stroke="#000" stroke-width="1.3"/>
<line x1="443.13" y1="741.50" x2="443.13" y2="728.00" stroke="#000" stroke-width="1.3"/>
<line x1="472.57" y1="8.00" x2="472.57" y2="15.00" stroke="#000" stroke-width="1.3"/>
<line x1="472.57" y1="368.00" x2="472.57" y2="382.00" stroke="#000" stroke-width="1.3"/>
<line x1="472.57" y1="741.50" x2="472.57" y2="734.50" stroke="#000" stroke-width="1.3"/>
<line x1="489.79" y1="8.00" x2="489.79" y2="15.00" stroke="#000" stroke-width="1.3"/>
<line x1="489.79" y1="368.00" x2="489.79" y2="382.00" stroke="#000" stroke-width="1.3"/>
<line x1="489.79" y1="741.50" x2="489.79" y2="734.50" stroke="#000" stroke-width="1.3"/>
<line x1="502.00" y1="8.00" x2="502.00" y2="15.00" stroke="#000" stroke-width="1.3"/>
<line x1="502.00" y1="368.00" x2="502.00" y2="382.00" stroke="#000" stroke-width="1.3"/>
<line x1="502.00" y1="741.50" x2="502.00" y2="734.50" stroke="#000" stroke-width="1.3"/>
<line x1="511.48" y1="8.00" x2="511.48" y2="15.00" stroke="#000" stroke-width="1.3"/>
<line x1="511.48" y1="368.00" x2="511.48" y2="382.00" stroke="#000" stroke-width="1.3"/>
<line x1="511.48" y1="741.50" x2="511.48" y2="734.50" stroke="#000" stroke-width="1.3"/>
<line x1="519.22" y1="8.00" x2="519.22" y2="15.00" stroke="#000" stroke-width="1.3"/>
<line x1="519.22" y1="368.00" x2="519.22" y2="382.00" stroke="#000" stroke-width="1.3"/>
<line x1="519.22" y1="741.50" x2="519.22" y2="734.50" stroke="#000" stroke-width="1.3"/>
<line x1="525.77" y1="8.00" x2="525.77" y2="15.00" stroke="#000" stroke-width="1.3"/>
<line x1="525.77" y1="368.00" x2="525.77" y2="382.00" stroke="#000" stroke-width="1.3"/>
<line x1="525.77" y1="741.50" x2="525.77" y2="734.50" stroke="#000" stroke-width="1.3"/>
<line x1="531.44" y1="8.00" x2="531.44" y2="15.00" stroke="#000" stroke-width="1.3"/>
<line x1="531.44" y1="368.00" x2="531.44" y2="382.00" stroke="#000" stroke-width="1.3"/>
<line x1="531.44" y1="741.50" x2="531.44" y2="734.50" stroke="#000" stroke-width="1.3"/>
<line x1="536.44" y1="8.00" x2="536.44" y2="15.00" stroke="#000" stroke-width="1.3"/>
<line x1="536.44" y1="368.00" x2="536.44" y2="382.00" stroke="#000" stroke-width="1.3"/>
<line x1="536.44" y1="741.50" x2="536.44" y2="734.50" stroke="#000" stroke-width="1.3"/>
<line x1="540.92" y1="8.00" x2="540.92" y2="21.50" stroke="#000" stroke-width="1.3"/>
<line x1="540.92" y1="361.50" x2="540.92" y2="388.50" stroke="#000" stroke-width="1.3"/>
<line x1="540.92" y1="741.50" x2="540.92" y2="728.00" stroke="#000" stroke-width="1.3"/>
<line x1="570.35" y1="8.00" x2="570.35" y2="15.00" stroke="#000" stroke-width="1.3"/>
<line x1="570.35" y1="368.00" x2="570.35" y2="382.00" stroke="#000" stroke-width="1.3"/>
<line x1="570.35" y1="741.50" x2="570.35" y2="734.50" stroke="#000" stroke-width="1.3"/>
<line x1="587.57" y1="8.00" x2="587.57" y2="15.00" stroke="#000" stroke-width="1.3"/>
<line x1="587.57" y1="368.00" x2="587.57" y2="382.00" stroke="#000" stroke-width="1.3"/>
<line x1="587.57" y1="741.50" x2="587.57" y2="734.50" stroke="#000" stroke-width="1.3"/>
<line x1="599.79" y1="8.00" x2="599.79" y2="15.00" stroke="#000" stroke-width="1.3"/>
<line x1="599.79" y1="368.00" x2="599.79" y2="382.00" stroke="#000" stroke-width="1.3"/>
<line x1="599.79" y1="741.50" x2="599.79" y2="734.50" stroke="#000" stroke-width="1.3"/>
<line x1="609.26" y1="8.00" x2="609.26" y2="15.00" stroke="#000" stroke-width="1.3"/>
<line x1="609.26" y1="368.00" x2="609.26" y2="382.00" stroke="#000" stroke-width="1.3"/>
<line x1="609.26" y1="741.50" x2="609.26" y2="734.50" stroke="#000" stroke-width="1.3"/>
<line x1="617.01" y1="8.00" x2="617.01" y2="15.00" stroke="#000" stroke-width="1.3"/>
<line x1="617.01" y1="368.00" x2="617.01" y2="382.00" stroke="#000" stroke-width="1.3"/>
<line x1="617.01" y1="741.50" x2="617.01" y2="734.50" stroke="#000" stroke-width="1.3"/>
<line x1="623.55" y1="8.00" x2="623.55" y2="15.00" stroke="#000" stroke-width="1.3"/>
<line x1="623.55" y1="368.00" x2="623.55" y2="382.00" stroke="#000" stroke-width="1.3"/>
<line x1="623.55" y1="741.50" x2="623.55" y2="734.50" stroke="#000" stroke-width="1.3"/>
<line x1="629.22" y1="8.00" x2="629.22" y2="15.00" stroke="#000" stroke-width="1.3"/>
<line x1="629.22" y1="368.00" x2="629.22" y2="382.00" stroke="#000" stroke-width="1.3"/>
<line x1="629.22" y1="741.50" x2="629.22" y2="734.50" stroke="#000" stroke-width="1.3"/>
<line x1="634.23" y1="8.00" x2="634.23" y2="15.00" stroke="#000" stroke-width="1.3"/>
<line x1="634.23" y1="368.00" x2="634.23" y2="382.00" stroke="#000" stroke-width="1.3"/>
<line x1="634.23" y1="741.50" x2="634.23" y2="734.50" stroke="#000" stroke-width="1.3"/>
<line x1="51.90" y1="69.17" x2="65.40" y2="69.17" stroke="#000" stroke-width="1.3"/>
<line x1="331.85" y1="69.17" x2="358.85" y2="69.17" stroke="#000" stroke-width="1.3"/>
<line x1="625.20" y1="69.17" x2="638.70" y2="69.17" stroke="#000" stroke-width="1.3"/>
<line x1="51.90" y1="50.75" x2="58.90" y2="50.75" stroke="#000" stroke-width="1.3"/>
<line x1="338.35" y1="50.75" x2="352.35" y2="50.75" stroke="#000" stroke-width="1.3"/>
<line x1="631.70" y1="50.75" x2="638.70" y2="50.75" stroke="#000" stroke-width="1.3"/>
<line x1="51.90" y1="39.98" x2="58.90" y2="39.98" stroke="#000" stroke-width="1.3"/>
<line x1="338.35" y1="39.98" x2="352.35" y2="39.98" stroke="#000" stroke-width="1.3"/>
<line x1="631.70" y1="39.98" x2="638.70" y2="39.98" stroke="#000" stroke-width="1.3"/>
<line x1="51.90" y1="32.34" x2="58.90" y2="32.34" stroke="#000" stroke-width="1.3"/>
<line x1="338.35" y1="32.34" x2="352.35" y2="32.34" stroke="#000" stroke-width="1.3"/>
<line x1="631.70" y1="32.34" x2="638.70" y2="32.34" stroke="#000" stroke-width="1.3"/>
<line x1="51.90" y1="26.41" x2="58.90" y2="26.41" stroke="#000" stroke-width="1.3"/>
<line x1="338.35" y1="26.41" x2="352.35" y2="26.41" stroke="#000" stroke-width="1.3"/>
<line x1="631.70" y1="26.41" x2="638.70" y2="26.41" stroke="#000" stroke-width="1.3"/>
<line x1="51.90" y1="21.57" x2="58.90" y2="21.57" stroke="#000" stroke-width="1.3"/>
<line x1="338.35" y1="21.57" x2="352.35" y2="21.57" stroke="#000" stroke-width="1.3"/>
<line x1="631.70" y1="21.57" x2="638.70" y2="21.57" stroke="#000" stroke-width="1.3"/>
<line x1="51.90" y1="17.47" x2="58.90" y2="17.47" stroke="#000" stroke-width="1.3"/>
<line x1="338.35" y1="17.47" x2="352.35" y2="17.47" stroke="#000" stroke-width="1.3"/>
<line x1="631.70" y1="17.47" x2="638.70" y2="17.47" stroke="#000" stroke-width="1.3"/>
<line x1="51.90" y1="13.93" x2="58.90" y2="13.93" stroke="#000" stroke-width="1.3"/>
<line x1="338.35" y1="13.93" x2="352.35" y2="13.93" stroke="#000" stroke-width="1.3"/>
<line x1="631.70" y1="13.93" x2="638.70" y2="13.93" stroke="#000" stroke-width="1.3"/>
<line x1="51.90" y1="10.80" x2="58.90" y2="10.80" stroke="#000" stroke-width="1.3"/>
<line x1="338.35" y1="10.80" x2="352.35" y2="10.80" stroke="#000" stroke-width="1.3"/>
<line x1="631.70" y1="10.80" x2="638.70" y2="10.80" stroke="#000" stroke-width="1.3"/>
<line x1="51.90" y1="130.33" x2="65.40" y2="130.33" stroke="#000" stroke-width="1.3"/>
<line x1="331.85" y1="130.33" x2="358.85" y2="130.33" stroke="#000" stroke-width="1.3"/>
<line x1="625.20" y1="130.33" x2="638.70" y2="130.33" stroke="#000" stroke-width="1.3"/>
<line x1="51.90" y1="111.92" x2="58.90" y2="111.92" stroke="#000" stroke-width="1.3"/>
<line x1="338.35" y1="111.92" x2="352.35" y2="111.92" stroke="#000" stroke-width="1.3"/>
<line x1="631.70" y1="111.92" x2="638.70" y2="111.92" stroke="#000" stroke-width="1.3"/>
<line x1="51.90" y1="101.15" x2="58.90" y2="101.15" stroke="#000" stroke-width="1.3"/>
<line x1="338.35" y1="101.15" x2="352.35" y2="101.15" stroke="#000" stroke-width="1.3"/>
<line x1="631.70" y1="101.15" x2="638.70" y2="101.15" stroke="#000" stroke-width="1.3"/>
<line x1="51.90" y1="93.51" x2="58.90" y2="93.51" stroke="#000" stroke-width="1.3"/>
<line x1="338.35" y1="93.51" x2="352.35" y2="93.51" stroke="#000" stroke-width="1.3"/>
<line x1="631.70" y1="93.51" x2="638.70" y2="93.51" stroke="#000" stroke-width="1.3"/>
<line x1="51.90" y1="87.58" x2="58.90" y2="87.58" stroke="#000" stroke-width="1.3"/>
<line x1="338.35" y1="87.58" x2="352.35" y2="87.58" stroke="#000" stroke-width="1.3"/>
<line x1="631.70" y1="87.58" x2="638.70" y2="87.58" stroke="#000" stroke-width="1.3"/>
<line x1="51.90" y1="82.74" x2="58.90" y2="82.74" stroke="#000" stroke-width="1.3"/>
<line x1="338.35" y1="82.74" x2="352.35" y2="82.74" stroke="#000" stroke-width="1.3"/>
<line x1="631.70" y1="82.74" x2="638.70" y2="82.74" stroke="#000" stroke-width="1.3"/>
<line x1="51.90" y1="78.64" x2="58.90" y2="78.64" stroke="#000" stroke-width="1.3"/>
<line x1="338.35" y1="78.64" x2="352.35" y2="78.64" stroke="#000" stroke-width="1.3"/>
<line x1="631.70" y1="78.64" x2="638.70" y2="78.64" stroke="#000" stroke-width="1.3"/>
<line x1="51.90" y1="75.09" x2="58.90" y2="75.09" stroke="#000" stroke-width="1.3"/>
<line x1="338.35" y1="75.09" x2="352.35" y2="75.09" stroke="#000" stroke-width="1.3"/>
<line x1="631.70" y1="75.09" x2="638.70" y2="75.09" stroke="#000" stroke-width="1.3"/>
<line x1="51.90" y1="71.97" x2="58.90" y2="71.97" stroke="#000" stroke-width="1.3"/>
<line x1="338.35" y1="71.97" x2="352.35" y2="71.97" stroke="#000" stroke-width="1.3"/>
<line x1="631.70" y1="71.97" x2="638.70" y2="71.97" stroke="#000" stroke-width="1.3"/>
<line x1="51.90" y1="191.50" x2="65.40" y2="191.50" stroke="#000" stroke-width="1.3"/>
<line x1="331.85" y1="191.50" x2="358.85" y2="191.50" stroke="#000" stroke-width="1.3"/>
<line x1="625.20" y1="191.50" x2="638.70" y2="191.50" stroke="#000" stroke-width="1.3"/>
<line x1="51.90" y1="173.09" x2="58.90" y2="173.09" stroke="#000" stroke-width="1.3"/>
<line x1="338.35" y1="173.09" x2="352.35" y2="173.09" stroke="#000" stroke-width="1.3"/>
<line x1="631.70" y1="173.09" x2="638.70" y2="173.09" stroke="#000" stroke-width="1.3"/>
<line x1="51.90" y1="162.32" x2="58.90" y2="162.32" stroke="#000" stroke-width="1.3"/>
<line x1="338.35" y1="162.32" x2="352.35" y2="162.32" stroke="#000" stroke-width="1.3"/>
<line x1="631.70" y1="162.32" x2="638.70" y2="162.32" stroke="#000" stroke-width="1.3"/>
<line x1="51.90" y1="154.67" x2="58.90" y2="154.67" stroke="#000" stroke-width="1.3"/>
<line x1="338.35" y1="154.67" x2="352.35" y2="154.67" stroke="#000" stroke-width="1.3"/>
<line x1="631.70" y1="154.67" x2="638.70" y2="154.67" stroke="#000" stroke-width="1.3"/>
<line x1="51.90" y1="148.75" x2="58.90" y2="148.75" stroke="#000" stroke-width="1.3"/>
<line x1="338.35" y1="148.75" x2="352.35" y2="148.75" stroke="#000" stroke-width="1.3"/>
<line x1="631.70" y1="148.75" x2="638.70" y2="148.75" stroke="#000" stroke-width="1.3"/>
<line x1="51.90" y1="143.90" x2="58.90" y2="143.90" stroke="#000" stroke-width="1.3"/>
<line x1="338.35" y1="143.90" x2="352.35" y2="143.90" stroke="#000" stroke-width="1.3"/>
<line x1="631.70" y1="143.90" x2="638.70" y2="143.90" stroke="#000" stroke-width="1.3"/>
<line x1="51.90" y1="139.81" x2="58.90" y2="139.81" stroke="#000" stroke-width="1.3"/>
<line x1="338.35" y1="139.81" x2="352.35" y2="139.81" stroke="#000" stroke-width="1.3"/>
<line x1="631.70" y1="139.81" x2="638.70" y2="139.81" stroke="#000" stroke-width="1.3"/>
<line x1="51.90" y1="136.26" x2="58.90" y2="136.26" stroke="#000" stroke-width="1.3"/>
<line x1="338.35" y1="136.26" x2="352.35" y2="136.26" stroke="#000" stroke-width="1.3"/>
<line x1="631.70" y1="136.26" x2="638.70" y2="136.26" stroke="#000" stroke-width="1.3"/>
<line x1="51.90" y1="133.13" x2="58.90" y2="133.13" stroke="#000" stroke-width="1.3"/>
<line x1="338.35" y1="133.13" x2="352.35" y2="133.13" stroke="#000" stroke-width="1.3"/>
<line x1="631.70" y1="133.13" x2="638.70" y2="133.13" stroke="#000" stroke-width="1.3"/>
<line x1="51.90" y1="252.67" x2="65.40" y2="252.67" stroke="#000" stroke-width="1.3"/>
<line x1="331.85" y1="252.67" x2="358.85" y2="252.67" stroke="#000" stroke-width="1.3"/>
<line x1="625.20" y1="252.67" x2="638.70" y2="252.67" stroke="#000" stroke-width="1.3"/>
<line x1="51.90" y1="234.25" x2="58.90" y2="234.25" stroke="#000" stroke-width="1.3"/>
<line x1="338.35" y1="234.25" x2="352.35" y2="234.25" stroke="#000" stroke-width="1.3"/>
<line x1="631.70" y1="234.25" x2="638.70" y2="234.25" stroke="#000" stroke-width="1.3"/>
<line x1="51.90" y1="223.48" x2="58.90" y2="223.48" stroke="#000" stroke-width="1.3"/>
<line x1="338.35" y1="223.48" x2="352.35" y2="223.48" stroke="#000" stroke-width="1.3"/>
<line x1="631.70" y1="223.48" x2="638.70" y2="223.48" stroke="#000" stroke-width="1.3"/>
<line x1="51.90" y1="215.84" x2="58.90" y2="215.84" stroke="#000" stroke-width="1.3"/>
<line x1="338.35" y1="215.84" x2="352.35" y2="215.84" stroke="#000" stroke-width="1.3"/>
<line x1="631.70" y1="215.84" x2="638.70" y2="215.84" stroke="#000" stroke-width="1.3"/>
<line x1="51.90" y1="209.91" x2="58.90" y2="209.91" stroke="#000" stroke-width="1.3"/>
<line x1="338.35" y1="209.91" x2="352.35" y2="209.91" stroke="#000" stroke-width="1.3"/>
<line x1="631.70" y1="209.91" x2="638.70" y2="209.91" stroke="#000" stroke-width="1.3"/>
<line x1="51.90" y1="205.07" x2="58.90" y2="205.07" stroke="#000" stroke-width="1.3"/>
<line x1="338.35" y1="205.07" x2="352.35" y2="205.07" stroke="#000" stroke-width="1.3"/>
<line x1="631.70" y1="205.07" x2="638.70" y2="205.07" stroke="#000" stroke-width="1.3"/>
<line x1="51.90" y1="200.97" x2="58.90" y2="200.97" stroke="#000" stroke-width="1.3"/>
<line x1="338.35" y1="200.97" x2="352.35" y2="200.97" stroke="#000" stroke-width="1.3"/>
<line x1="631.70" y1="200.97" x2="638.70" y2="200.97" stroke="#000" stroke-width="1.3"/>
<line x1="51.90" y1="197.43" x2="58.90" y2="197.43" stroke="#000" stroke-width="1.3"/>
<line x1="338.35" y1="197.43" x2="352.35" y2="197.43" stroke="#000" stroke-width="1.3"/>
<line x1="631.70" y1="197.43" x2="638.70" y2="197.43" stroke="#000" stroke-width="1.3"/>
<line x1="51.90" y1="194.30" x2="58.90" y2="194.30" stroke="#000" stroke-width="1.3"/>
<line x1="338.35" y1="194.30" x2="352.35" y2="194.30" stroke="#000" stroke-width="1.3"/>
<line x1="631.70" y1="194.30" x2="638.70" y2="194.30" stroke="#000" stroke-width="1.3"/>
<line x1="51.90" y1="313.83" x2="65.40" y2="313.83" stroke="#000" stroke-width="1.3"/>
<line x1="331.85" y1="313.83" x2="358.85" y2="313.83" stroke="#000" stroke-width="1.3"/>
<line x1="625.20" y1="313.83" x2="638.70" y2="313.83" stroke="#000" stroke-width="1.3"/>
<line x1="51.90" y1="295.42" x2="58.90" y2="295.42" stroke="#000" stroke-width="1.3"/>
<line x1="338.35" y1="295.42" x2="352.35" y2="295.42" stroke="#000" stroke-width="1.3"/>
<line x1="631.70" y1="295.42" x2="638.70" y2="295.42" stroke="#000" stroke-width="1.3"/>
<line x1="51.90" y1="284.65" x2="58.90" y2="284.65" stroke="#000" stroke-width="1.3"/>
<line x1="338.35" y1="284.65" x2="352.35" y2="284.65" stroke="#000" stroke-width="1.3"/>
<line x1="631.70" y1="284.65" x2="638.70" y2="284.65" stroke="#000" stroke-width="1.3"/>
<line x1="51.90" y1="277.01" x2="58.90" y2="277.01" stroke="#000" stroke-width="1.3"/>
<line x1="338.35" y1="277.01" x2="352.35" y2="277.01" stroke="#000" stroke-width="1.3"/>
<line x1="631.70" y1="277.01" x2="638.70" y2="277.01" stroke="#000" stroke-width="1.3"/>
<line x1="51.90" y1="271.08" x2="58.90" y2="271.08" stroke="#000" stroke-width="1.3"/>
<line x1="338.35" y1="271.08" x2="352.35" y2="271.08" stroke="#000" stroke-width="1.3"/>
<line x1="631.70" y1="271.08" x2="638.70" y2="271.08" stroke="#000" stroke-width="1.3"/>
<line x1="51.90" y1="266.24" x2="58.90" y2="266.24" stroke="#000" stroke-width="1.3"/>
<line x1="338.35" y1="266.24" x2="352.35" y2="266.24" stroke="#000" stroke-width="1.3"/>
<line x1="631.70" y1="266.24" x2="638.70" y2="266.24" stroke="#000" stroke-width="1.3"/>
<line x1="51.90" y1="262.14" x2="58.90" y2="262.14" stroke="#000" stroke-width="1.3"/>
<line x1="338.35" y1="262.14" x2="352.35" y2="262.14" stroke="#000" stroke-width="1.3"/>
<line x1="631.70" y1="262.14" x2="638.70" y2="262.14" stroke="#000" stroke-width="1.3"/>
<line x1="51.90" y1="258.59" x2="58.90" y2="258.59" stroke="#000" stroke-width="1.3"/>
<line x1="338.35" y1="258.59" x2="352.35" y2="258.59" stroke="#000" stroke-width="1.3"/>
<line x1="631.70" y1="258.59" x2="638.70" y2="258.59" stroke="#000" stroke-width="1.3"/>
<line x1="51.90" y1="255.47" x2="58.90" y2="255.47" stroke="#000" stroke-width="1.3"/>
<line x1="338.35" y1="255.47" x2="352.35" y2="255.47" stroke="#000" stroke-width="1.3"/>
<line x1="631.70" y1="255.47" x2="638.70" y2="255.47" stroke="#000" stroke-width="1.3"/>
<line x1="51.90" y1="356.59" x2="58.90" y2="356.59" stroke="#000" stroke-width="1.3"/>
<line x1="338.35" y1="356.59" x2="352.35" y2="356.59" stroke="#000" stroke-width="1.3"/>
<line x1="631.70" y1="356.59" x2="638.70" y2="356.59" stroke="#000" stroke-width="1.3"/>
<line x1="51.90" y1="345.82" x2="58.90" y2="345.82" stroke="#000" stroke-width="1.3"/>
<line x1="338.35" y1="345.82" x2="352.35" y2="345.82" stroke="#000" stroke-width="1.3"/>
<line x1="631.70" y1="345.82" x2="638.70" y2="345.82" stroke="#000" stroke-width="1.3"/>
<line x1="51.90" y1="338.17" x2="58.90" y2="338.17" stroke="#000" stroke-width="1.3"/>
<line x1="338.35" y1="338.17" x2="352.35" y2="338.17" stroke="#000" stroke-width="1.3"/>
<line x1="631.70" y1="338.17" x2="638.70" y2="338.17" stroke="#000" stroke-width="1.3"/>
<line x1="51.90" y1="332.25" x2="58.90" y2="332.25" stroke="#000" stroke-width="1.3"/>
<line x1="338.35" y1="332.25" x2="352.35" y2="332.25" stroke="#000" stroke-width="1.3"/>
<line x1="631.70" y1="332.25" x2="638.70" y2="332.25" stroke="#000" stroke-width="1.3"/>
<line x1="51.90" y1="327.40" x2="58.90" y2="327.40" stroke="#000" stroke-width="1.3"/>
<line x1="338.35" y1="327.40" x2="352.35" y2="327.40" stroke="#000" stroke-width="1.3"/>
<line x1="631.70" y1="327.40" x2="638.70" y2="327.40" stroke="#000" stroke-width="1.3"/>
<line x1="51.90" y1="323.31" x2="58.90" y2="323.31" stroke="#000" stroke-width="1.3"/>
<line x1="338.35" y1="323.31" x2="352.35" y2="323.31" stroke="#000" stroke-width="1.3"/>
<line x1="631.70" y1="323.31" x2="638.70" y2="323.31" stroke="#000" stroke-width="1.3"/>
<line x1="51.90" y1="319.76" x2="58.90" y2="319.76" stroke="#000" stroke-width="1.3"/>
<line x1="338.35" y1="319.76" x2="352.35" y2="319.76" stroke="#000" stroke-width="1.3"/>
<line x1="631.70" y1="319.76" x2="638.70" y2="319.76" stroke="#000" stroke-width="1.3"/>
<line x1="51.90" y1="316.63" x2="58.90" y2="316.63" stroke="#000" stroke-width="1.3"/>
<line x1="338.35" y1="316.63" x2="352.35" y2="316.63" stroke="#000" stroke-width="1.3"/>
<line x1="631.70" y1="316.63" x2="638.70" y2="316.63" stroke="#000" stroke-width="1.3"/>
<line x1="51.90" y1="436.08" x2="65.40" y2="436.08" stroke="#000" stroke-width="1.3"/>
<line x1="331.85" y1="436.08" x2="358.85" y2="436.08" stroke="#000" stroke-width="1.3"/>
<line x1="625.20" y1="436.08" x2="638.70" y2="436.08" stroke="#000" stroke-width="1.3"/>
<line x1="51.90" y1="417.70" x2="58.90" y2="417.70" stroke="#000" stroke-width="1.3"/>
<line x1="338.35" y1="417.70" x2="352.35" y2="417.70" stroke="#000" stroke-width="1.3"/>
<line x1="631.70" y1="417.70" x2="638.70" y2="417.70" stroke="#000" stroke-width="1.3"/>
<line x1="51.90" y1="406.94" x2="58.90" y2="406.94" stroke="#000" stroke-width="1.3"/>
<line x1="338.35" y1="406.94" x2="352.35" y2="406.94" stroke="#000" stroke-width="1.3"/>
<line x1="631.70" y1="406.94" x2="638.70" y2="406.94" stroke="#000" stroke-width="1.3"/>
<line x1="51.90" y1="399.31" x2="58.90" y2="399.31" stroke="#000" stroke-width="1.3"/>
<line x1="338.35" y1="399.31" x2="352.35" y2="399.31" stroke="#000" stroke-width="1.3"/>
<line x1="631.70" y1="399.31" x2="638.70" y2="399.31" stroke="#000" stroke-width="1.3"/>
<line x1="51.90" y1="393.39" x2="58.90" y2="393.39" stroke="#000" stroke-width="1.3"/>
<line x1="338.35" y1="393.39" x2="352.35" y2="393.39" stroke="#000" stroke-width="1.3"/>
<line x1="631.70" y1="393.39" x2="638.70" y2="393.39" stroke="#000" stroke-width="1.3"/>
<line x1="51.90" y1="388.55" x2="58.90" y2="388.55" stroke="#000" stroke-width="1.3"/>
<line x1="338.35" y1="388.55" x2="352.35" y2="388.55" stroke="#000" stroke-width="1.3"/>
<line x1="631.70" y1="388.55" x2="638.70" y2="388.55" stroke="#000" stroke-width="1.3"/>
<line x1="51.90" y1="384.46" x2="58.90" y2="384.46" stroke="#000" stroke-width="1.3"/>
<line x1="338.35" y1="384.46" x2="352.35" y2="384.46" stroke="#000" stroke-width="1.3"/>
<line x1="631.70" y1="384.46" x2="638.70" y2="384.46" stroke="#000" stroke-width="1.3"/>
<line x1="51.90" y1="380.92" x2="58.90" y2="380.92" stroke="#000" stroke-width="1.3"/>
<line x1="338.35" y1="380.92" x2="352.35" y2="380.92" stroke="#000" stroke-width="1.3"/>
<line x1="631.70" y1="380.92" x2="638.70" y2="380.92" stroke="#000" stroke-width="1.3"/>
<line x1="51.90" y1="377.80" x2="58.90" y2="377.80" stroke="#000" stroke-width="1.3"/>
<line x1="338.35" y1="377.80" x2="352.35" y2="377.80" stroke="#000" stroke-width="1.3"/>
<line x1="631.70" y1="377.80" x2="638.70" y2="377.80" stroke="#000" stroke-width="1.3"/>
<line x1="51.90" y1="497.17" x2="65.40" y2="497.17" stroke="#000" stroke-width="1.3"/>
<line x1="331.85" y1="497.17" x2="358.85" y2="497.17" stroke="#000" stroke-width="1.3"/>
<line x1="625.20" y1="497.17" x2="638.70" y2="497.17" stroke="#000" stroke-width="1.3"/>
<line x1="51.90" y1="478.78" x2="58.90" y2="478.78" stroke="#000" stroke-width="1.3"/>
<line x1="338.35" y1="478.78" x2="352.35" y2="478.78" stroke="#000" stroke-width="1.3"/>
<line x1="631.70" y1="478.78" x2="638.70" y2="478.78" stroke="#000" stroke-width="1.3"/>
<line x1="51.90" y1="468.02" x2="58.90" y2="468.02" stroke="#000" stroke-width="1.3"/>
<line x1="338.35" y1="468.02" x2="352.35" y2="468.02" stroke="#000" stroke-width="1.3"/>
<line x1="631.70" y1="468.02" x2="638.70" y2="468.02" stroke="#000" stroke-width="1.3"/>
<line x1="51.90" y1="460.39" x2="58.90" y2="460.39" stroke="#000" stroke-width="1.3"/>
<line x1="338.35" y1="460.39" x2="352.35" y2="460.39" stroke="#000" stroke-width="1.3"/>
<line x1="631.70" y1="460.39" x2="638.70" y2="460.39" stroke="#000" stroke-width="1.3"/>
<line x1="51.90" y1="454.47" x2="58.90" y2="454.47" stroke="#000" stroke-width="1.3"/>
<line x1="338.35" y1="454.47" x2="352.35" y2="454.47" stroke="#000" stroke-width="1.3"/>
<line x1="631.70" y1="454.47" x2="638.70" y2="454.47" stroke="#000" stroke-width="1.3"/>
<line x1="51.90" y1="449.63" x2="58.90" y2="449.63" stroke="#000" stroke-width="1.3"/>
<line x1="338.35" y1="449.63" x2="352.35" y2="449.63" stroke="#000" stroke-width="1.3"/>
<line x1="631.70" y1="449.63" x2="638.70" y2="449.63" stroke="#000" stroke-width="1.3"/>
<line x1="51.90" y1="445.55" x2="58.90" y2="445.55" stroke="#000" stroke-width="1.3"/>
<line x1="338.35" y1="445.55" x2="352.35" y2="445.55" stroke="#000" stroke-width="1.3"/>
<line x1="631.70" y1="445.55" x2="638.70" y2="445.55" stroke="#000" stroke-width="1.3"/>
<line x1="51.90" y1="442.00" x2="58.90" y2="442.00" stroke="#000" stroke-width="1.3"/>
<line x1="338.35" y1="442.00" x2="352.35" y2="442.00" stroke="#000" stroke-width="1.3"/>
<line x1="631.70" y1="442.00" x2="638.70" y2="442.00" stroke="#000" stroke-width="1.3"/>
<line x1="51.90" y1="438.88" x2="58.90" y2="438.88" stroke="#000" stroke-width="1.3"/>
<line x1="338.35" y1="438.88" x2="352.35" y2="438.88" stroke="#000" stroke-width="1.3"/>
<line x1="631.70" y1="438.88" x2="638.70" y2="438.88" stroke="#000" stroke-width="1.3"/>
<line x1="51.90" y1="558.25" x2="65.40" y2="558.25" stroke="#000" stroke-width="1.3"/>
<line x1="331.85" y1="558.25" x2="358.85" y2="558.25" stroke="#000" stroke-width="1.3"/>
<line x1="625.20" y1="558.25" x2="638.70" y2="558.25" stroke="#000" stroke-width="1.3"/>
<line x1="51.90" y1="539.86" x2="58.90" y2="539.86" stroke="#000" stroke-width="1.3"/>
<line x1="338.35" y1="539.86" x2="352.35" y2="539.86" stroke="#000" stroke-width="1.3"/>
<line x1="631.70" y1="539.86" x2="638.70" y2="539.86" stroke="#000" stroke-width="1.3"/>
<line x1="51.90" y1="529.11" x2="58.90" y2="529.11" stroke="#000" stroke-width="1.3"/>
<line x1="338.35" y1="529.11" x2="352.35" y2="529.11" stroke="#000" stroke-width="1.3"/>
<line x1="631.70" y1="529.11" x2="638.70" y2="529.11" stroke="#000" stroke-width="1.3"/>
<line x1="51.90" y1="521.47" x2="58.90" y2="521.47" stroke="#000" stroke-width="1.3"/>
<line x1="338.35" y1="521.47" x2="352.35" y2="521.47" stroke="#000" stroke-width="1.3"/>
<line x1="631.70" y1="521.47" x2="638.70" y2="521.47" stroke="#000" stroke-width="1.3"/>
<line x1="51.90" y1="515.55" x2="58.90" y2="515.55" stroke="#000" stroke-width="1.3"/>
<line x1="338.35" y1="515.55" x2="352.35" y2="515.55" stroke="#000" stroke-width="1.3"/>
<line x1="631.70" y1="515.55" x2="638.70" y2="515.55" stroke="#000" stroke-width="1.3"/>
<line x1="51.90" y1="510.72" x2="58.90" y2="510.72" stroke="#000" stroke-width="1.3"/>
<line x1="338.35" y1="510.72" x2="352.35" y2="510.72" stroke="#000" stroke-width="1.3"/>
<line x1="631.70" y1="510.72" x2="638.70" y2="510.72" stroke="#000" stroke-width="1.3"/>
<line x1="51.90" y1="506.63" x2="58.90" y2="506.63" stroke="#000" stroke-width="1.3"/>
<line x1="338.35" y1="506.63" x2="352.35" y2="506.63" stroke="#000" stroke-width="1.3"/>
<line x1="631.70" y1="506.63" x2="638.70" y2="506.63" stroke="#000" stroke-width="1.3"/>
<line x1="51.90" y1="503.09" x2="58.90" y2="503.09" stroke="#000" stroke-width="1.3"/>
<line x1="338.35" y1="503.09" x2="352.35" y2="503.09" stroke="#000" stroke-width="1.3"/>
<line x1="631.70" y1="503.09" x2="638.70" y2="503.09" stroke="#000" stroke-width="1.3"/>
<line x1="51.90" y1="499.96" x2="58.90" y2="499.96" stroke="#000" stroke-width="1.3"/>
<line x1="338.35" y1="499.96" x2="352.35" y2="499.96" stroke="#000" stroke-width="1.3"/>
<line x1="631.70" y1="499.96" x2="638.70" y2="499.96" stroke="#000" stroke-width="1.3"/>
<line x1="51.90" y1="619.33" x2="65.40" y2="619.33" stroke="#000" stroke-width="1.3"/>
<line x1="331.85" y1="619.33" x2="358.85" y2="619.33" stroke="#000" stroke-width="1.3"/>
<line x1="625.20" y1="619.33" x2="638.70" y2="619.33" stroke="#000" stroke-width="1.3"/>
<line x1="51.90" y1="600.95" x2="58.90" y2="600.95" stroke="#000" stroke-width="1.3"/>
<line x1="338.35" y1="600.95" x2="352.35" y2="600.95" stroke="#000" stroke-width="1.3"/>
<line x1="631.70" y1="600.95" x2="638.70" y2="600.95" stroke="#000" stroke-width="1.3"/>
<line x1="51.90" y1="590.19" x2="58.90" y2="590.19" stroke="#000" stroke-width="1.3"/>
<line x1="338.35" y1="590.19" x2="352.35" y2="590.19" stroke="#000" stroke-width="1.3"/>
<line x1="631.70" y1="590.19" x2="638.70" y2="590.19" stroke="#000" stroke-width="1.3"/>
<line x1="51.90" y1="582.56" x2="58.90" y2="582.56" stroke="#000" stroke-width="1.3"/>
<line x1="338.35" y1="582.56" x2="352.35" y2="582.56" stroke="#000" stroke-width="1.3"/>
<line x1="631.70" y1="582.56" x2="638.70" y2="582.56" stroke="#000" stroke-width="1.3"/>
<line x1="51.90" y1="576.64" x2="58.90" y2="576.64" stroke="#000" stroke-width="1.3"/>
<line x1="338.35" y1="576.64" x2="352.35" y2="576.64" stroke="#000" stroke-width="1.3"/>
<line x1="631.70" y1="576.64" x2="638.70" y2="576.64" stroke="#000" stroke-width="1.3"/>
<line x1="51.90" y1="571.80" x2="58.90" y2="571.80" stroke="#000" stroke-width="1.3"/>
<line x1="338.35" y1="571.80" x2="352.35" y2="571.80" stroke="#000" stroke-width="1.3"/>
<line x1="631.70" y1="571.80" x2="638.70" y2="571.80" stroke="#000" stroke-width="1.3"/>
<line x1="51.90" y1="567.71" x2="58.90" y2="567.71" stroke="#000" stroke-width="1.3"/>
<line x1="338.35" y1="567.71" x2="352.35" y2="567.71" stroke="#000" stroke-width="1.3"/>
<line x1="631.70" y1="567.71" x2="638.70" y2="567.71" stroke="#000" stroke-width="1.3"/>
<line x1="51.90" y1="564.17" x2="58.90" y2="564.17" stroke="#000" stroke-width="1.3"/>
<line x1="338.35" y1="564.17" x2="352.35" y2="564.17" stroke="#000" stroke-width="1.3"/>
<line x1="631.70" y1="564.17" x2="638.70" y2="564.17" stroke="#000" stroke-width="1.3"/>
<line x1="51.90" y1="561.05" x2="58.90" y2="561.05" stroke="#000" stroke-width="1.3"/>
<line x1="338.35" y1="561.05" x2="352.35" y2="561.05" stroke="#000" stroke-width="1.3"/>
<line x1="631.70" y1="561.05" x2="638.70" y2="561.05" stroke="#000" stroke-width="1.3"/>
<line x1="51.90" y1="680.42" x2="65.40" y2="680.42" stroke="#000" stroke-width="1.3"/>
<line x1="331.85" y1="680.42" x2="358.85" y2="680.42" stroke="#000" stroke-width="1.3"/>
<line x1="625.20" y1="680.42" x2="638.70" y2="680.42" stroke="#000" stroke-width="1.3"/>
<line x1="51.90" y1="662.03" x2="58.90" y2="662.03" stroke="#000" stroke-width="1.3"/>
<line x1="338.35" y1="662.03" x2="352.35" y2="662.03" stroke="#000" stroke-width="1.3"/>
<line x1="631.70" y1="662.03" x2="638.70" y2="662.03" stroke="#000" stroke-width="1.3"/>
<line x1="51.90" y1="651.27" x2="58.90" y2="651.27" stroke="#000" stroke-width="1.3"/>
<line x1="338.35" y1="651.27" x2="352.35" y2="651.27" stroke="#000" stroke-width="1.3"/>
<line x1="631.70" y1="651.27" x2="638.70" y2="651.27" stroke="#000" stroke-width="1.3"/>
<line x1="51.90" y1="643.64" x2="58.90" y2="643.64" stroke="#000" stroke-width="1.3"/>
<line x1="338.35" y1="643.64" x2="352.35" y2="643.64" stroke="#000" stroke-width="1.3"/>
<line x1="631.70" y1="643.64" x2="638.70" y2="643.64" stroke="#000" stroke-width="1.3"/>
<line x1="51.90" y1="637.72" x2="58.90" y2="637.72" stroke="#000" stroke-width="1.3"/>
<line x1="338.35" y1="637.72" x2="352.35" y2="637.72" stroke="#000" stroke-width="1.3"/>
<line x1="631.70" y1="637.72" x2="638.70" y2="637.72" stroke="#000" stroke-width="1.3"/>
<line x1="51.90" y1="632.88" x2="58.90" y2="632.88" stroke="#000" stroke-width="1.3"/>
<line x1="338.35" y1="632.88" x2="352.35" y2="632.88" stroke="#000" stroke-width="1.3"/>
<line x1="631.70" y1="632.88" x2="638.70" y2="632.88" stroke="#000" stroke-width="1.3"/>
<line x1="51.90" y1="628.80" x2="58.90" y2="628.80" stroke="#000" stroke-width="1.3"/>
<line x1="338.35" y1="628.80" x2="352.35" y2="628.80" stroke="#000" stroke-width="1.3"/>
<line x1="631.70" y1="628.80" x2="638.70" y2="628.80" stroke="#000" stroke-width="1.3"/>
<line x1="51.90" y1="625.25" x2="58.90" y2="625.25" stroke="#000" stroke-width="1.3"/>
<line x1="338.35" y1="625.25" x2="352.35" y2="625.25" stroke="#000" stroke-width="1.3"/>
<line x1="631.70" y1="625.25" x2="638.70" y2="625.25" stroke="#000" stroke-width="1.3"/>
<line x1="51.90" y1="622.13" x2="58.90" y2="622.13" stroke="#000" stroke-width="1.3"/>
<line x1="338.35" y1="622.13" x2="352.35" y2="622.13" stroke="#000" stroke-width="1.3"/>
<line x1="631.70" y1="622.13" x2="638.70" y2="622.13" stroke="#000" stroke-width="1.3"/>
<line x1="51.90" y1="723.11" x2="58.90" y2="723.11" stroke="#000" stroke-width="1.3"/>
<line x1="338.35" y1="723.11" x2="352.35" y2="723.11" stroke="#000" stroke-width="1.3"/>
<line x1="631.70" y1="723.11" x2="638.70" y2="723.11" stroke="#000" stroke-width="1.3"/>
<line x1="51.90" y1="712.36" x2="58.90" y2="712.36" stroke="#000" stroke-width="1.3"/>
<line x1="338.35" y1="712.36" x2="352.35" y2="712.36" stroke="#000" stroke-width="1.3"/>
<line x1="631.70" y1="712.36" x2="638.70" y2="712.36" stroke="#000" stroke-width="1.3"/>
<line x1="51.90" y1="704.72" x2="58.90" y2="704.72" stroke="#000" stroke-width="1.3"/>
<line x1="338.35" y1="704.72" x2="352.35" y2="704.72" stroke="#000" stroke-width="1.3"/>
<line x1="631.70" y1="704.72" x2="638.70" y2="704.72" stroke="#000" stroke-width="1.3"/>
<line x1="51.90" y1="698.80" x2="58.90" y2="698.80" stroke="#000" stroke-width="1.3"/>
<line x1="338.35" y1="698.80" x2="352.35" y2="698.80" stroke="#000" stroke-width="1.3"/>
<line x1="631.70" y1="698.80" x2="638.70" y2="698.80" stroke="#000" stroke-width="1.3"/>
<line x1="51.90" y1="693.97" x2="58.90" y2="693.97" stroke="#000" stroke-width="1.3"/>
<line x1="338.35" y1="693.97" x2="352.35" y2="693.97" stroke="#000" stroke-width="1.3"/>
<line x1="631.70" y1="693.97" x2="638.70" y2="693.97" stroke="#000" stroke-width="1.3"/>
<line x1="51.90" y1="689.88" x2="58.90" y2="689.88" stroke="#000" stroke-width="1.3"/>
<line x1="338.35" y1="689.88" x2="352.35" y2="689.88" stroke="#000" stroke-width="1.3"/>
<line x1="631.70" y1="689.88" x2="638.70" y2="689.88" stroke="#000" stroke-width="1.3"/>
<line x1="51.90" y1="686.34" x2="58.90" y2="686.34" stroke="#000" stroke-width="1.3"/>
<line x1="338.35" y1="686.34" x2="352.35" y2="686.34" stroke="#000" stroke-width="1.3"/>
<line x1="631.70" y1="686.34" x2="638.70" y2="686.34" stroke="#000" stroke-width="1.3"/>
<line x1="51.90" y1="683.21" x2="58.90" y2="683.21" stroke="#000" stroke-width="1.3"/>
<line x1="338.35" y1="683.21" x2="352.35" y2="683.21" stroke="#000" stroke-width="1.3"/>
<line x1="631.70" y1="683.21" x2="638.70" y2="683.21" stroke="#000" stroke-width="1.3"/>
<rect x="51.9" y="8.0" width="586.8000000000001" height="733.5" fill="none" stroke="#000" stroke-width="1.3"/>
<line x1="345.35" y1="8.00" x2="345.35" y2="741.50" stroke="#000" stroke-width="1.3"/>
<line x1="51.90" y1="375.00" x2="638.70" y2="375.00" stroke="#000" stroke-width="1.3"/>
<text transform="matrix(0.8419,0,0,1.0000,8.03,15.40)" font-family="Liberation Serif" font-size="21.52" fill="#000" stroke="#000" stroke-width="0.22">1</text>
<text transform="matrix(1.0673,0,0,1.0000,19.77,15.40)" font-family="Liberation Serif" font-size="21.30" fill="#000" stroke="#000" stroke-width="0.22">0</text>
<text transform="matrix(1.1500,0,0,1.0000,32.27,8.90)" font-family="Liberation Serif" font-size="12.81" fill="#000" stroke="#000" stroke-width="0.22">3</text>
<text transform="matrix(0.8419,0,0,1.0000,8.03,76.57)" font-family="Liberation Serif" font-size="21.52" fill="#000" stroke="#000" stroke-width="0.22">1</text>
<text transform="matrix(1.0673,0,0,1.0000,19.77,76.57)" font-family="Liberation Serif" font-size="21.30" fill="#000" stroke="#000" stroke-width="0.22">0</text>
<text transform="matrix(1.1500,0,0,1.0000,32.39,70.07)" font-family="Liberation Serif" font-size="12.81" fill="#000" stroke="#000" stroke-width="0.22">2</text>
<text transform="matrix(0.8419,0,0,1.0000,8.03,137.73)" font-family="Liberation Serif" font-size="21.52" fill="#000" stroke="#000" stroke-width="0.22">1</text>
<text transform="matrix(1.0673,0,0,1.0000,19.77,137.73)" font-family="Liberation Serif" font-size="21.30" fill="#000" stroke="#000" stroke-width="0.22">0</text>
<text transform="matrix(1.0109,0,0,1.0000,32.47,131.23)" font-family="Liberation Serif" font-size="12.88" fill="#000" stroke="#000" stroke-width="0.22">1</text>
<path d="M33.10,186.30 L35.20,186.30 L35.20,202.10 L33.10,202.10 L33.10,190.50 L31.40,191.50 L29.40,192.00 L29.40,190.20 L31.00,189.60 L32.30,188.50Z" fill="#000"/>
<text transform="matrix(0.8945,0,0,1.0000,-2.87,260.07)" font-family="Liberation Serif" font-size="21.52" fill="#000" stroke="#000" stroke-width="0.22">1</text>
<text transform="matrix(1.1500,0,0,1.0000,8.73,260.07)" font-family="Liberation Serif" font-size="21.30" fill="#000" stroke="#000" stroke-width="0.22">0</text>
<rect x="24.1" y="248.8" width="6.2" height="1.2" fill="#000"/>
<text transform="matrix(1.0768,0,0,1.0000,31.60,253.57)" font-family="Liberation Serif" font-size="12.88" fill="#000" stroke="#000" stroke-width="0.22">1</text>
<text transform="matrix(0.8945,0,0,1.0000,-2.87,321.23)" font-family="Liberation Serif" font-size="21.52" fill="#000" stroke="#000" stroke-width="0.22">1</text>
<text transform="matrix(1.1500,0,0,1.0000,8.73,321.23)" font-family="Liberation Serif" font-size="21.30" fill="#000" stroke="#000" stroke-width="0.22">0</text>
<rect x="24.1" y="309.9" width="6.2" height="1.2" fill="#000"/>
<text transform="matrix(1.1500,0,0,1.0000,32.14,314.73)" font-family="Liberation Serif" font-size="12.81" fill="#000" stroke="#000" stroke-width="0.22">2</text>
<text transform="matrix(0.8419,0,0,1.0000,8.03,382.40)" font-family="Liberation Serif" font-size="21.52" fill="#000" stroke="#000" stroke-width="0.22">1</text>
<text transform="matrix(1.0673,0,0,1.0000,19.77,382.40)" font-family="Liberation Serif" font-size="21.30" fill="#000" stroke="#000" stroke-width="0.22">0</text>
<text transform="matrix(1.1500,0,0,1.0000,32.27,375.90)" font-family="Liberation Serif" font-size="12.81" fill="#000" stroke="#000" stroke-width="0.22">3</text>
<text transform="matrix(0.8419,0,0,1.0000,8.03,443.57)" font-family="Liberation Serif" font-size="21.52" fill="#000" stroke="#000" stroke-width="0.22">1</text>
<text transform="matrix(1.0673,0,0,1.0000,19.77,443.57)" font-family="Liberation Serif" font-size="21.30" fill="#000" stroke="#000" stroke-width="0.22">0</text>
<text transform="matrix(1.1500,0,0,1.0000,32.39,437.07)" font-family="Liberation Serif" font-size="12.81" fill="#000" stroke="#000" stroke-width="0.22">2</text>
<text transform="matrix(0.8419,0,0,1.0000,8.03,504.73)" font-family="Liberation Serif" font-size="21.52" fill="#000" stroke="#000" stroke-width="0.22">1</text>
<text transform="matrix(1.0673,0,0,1.0000,19.77,504.73)" font-family="Liberation Serif" font-size="21.30" fill="#000" stroke="#000" stroke-width="0.22">0</text>
<text transform="matrix(1.0109,0,0,1.0000,32.47,498.23)" font-family="Liberation Serif" font-size="12.88" fill="#000" stroke="#000" stroke-width="0.22">1</text>
<path d="M33.10,553.30 L35.20,553.30 L35.20,569.10 L33.10,569.10 L33.10,557.50 L31.40,558.50 L29.40,559.00 L29.40,557.20 L31.00,556.60 L32.30,555.50Z" fill="#000"/>
<text transform="matrix(0.8945,0,0,1.0000,-2.87,627.07)" font-family="Liberation Serif" font-size="21.52" fill="#000" stroke="#000" stroke-width="0.22">1</text>
<text transform="matrix(1.1500,0,0,1.0000,8.73,627.07)" font-family="Liberation Serif" font-size="21.30" fill="#000" stroke="#000" stroke-width="0.22">0</text>
<rect x="24.1" y="615.8" width="6.2" height="1.2" fill="#000"/>
<text transform="matrix(1.0768,0,0,1.0000,31.60,620.57)" font-family="Liberation Serif" font-size="12.88" fill="#000" stroke="#000" stroke-width="0.22">1</text>
<text transform="matrix(0.8945,0,0,1.0000,-2.87,688.23)" font-family="Liberation Serif" font-size="21.52" fill="#000" stroke="#000" stroke-width="0.22">1</text>
<text transform="matrix(1.1500,0,0,1.0000,8.73,688.23)" font-family="Liberation Serif" font-size="21.30" fill="#000" stroke="#000" stroke-width="0.22">0</text>
<rect x="24.1" y="676.9" width="6.2" height="1.2" fill="#000"/>
<text transform="matrix(1.1500,0,0,1.0000,32.14,681.73)" font-family="Liberation Serif" font-size="12.81" fill="#000" stroke="#000" stroke-width="0.22">2</text>
<text transform="matrix(0.8945,0,0,1.0000,-2.87,749.40)" font-family="Liberation Serif" font-size="21.52" fill="#000" stroke="#000" stroke-width="0.22">1</text>
<text transform="matrix(1.1500,0,0,1.0000,8.73,749.40)" font-family="Liberation Serif" font-size="21.30" fill="#000" stroke="#000" stroke-width="0.22">0</text>
<rect x="24.1" y="738.1" width="6.2" height="1.2" fill="#000"/>
<text transform="matrix(1.1500,0,0,1.0000,32.02,742.90)" font-family="Liberation Serif" font-size="12.81" fill="#000" stroke="#000" stroke-width="0.22">3</text>
<text transform="matrix(0.9146,0,0,1.0000,30.96,767.90)" font-family="Liberation Serif" font-size="21.97" fill="#000" stroke="#000" stroke-width="0.22">1</text>
<text transform="matrix(1.1500,0,0,1.0000,42.95,767.90)" font-family="Liberation Serif" font-size="21.75" fill="#000" stroke="#000" stroke-width="0.22">0</text>
<rect x="56.6" y="757.2" width="7.3" height="1.2" fill="#000"/>
<text transform="matrix(0.9654,0,0,1.0000,65.97,762.00)" font-family="Liberation Serif" font-size="13.48" fill="#000" stroke="#000" stroke-width="0.22">1</text>
<path d="M149.02,759.50 L151.12,759.50 L151.12,775.30 L149.02,775.30 L149.02,763.70 L147.32,764.70 L145.32,765.20 L145.32,763.40 L146.92,762.80 L148.22,761.70Z" fill="#000"/>
<text transform="matrix(0.9146,0,0,1.0000,231.69,767.90)" font-family="Liberation Serif" font-size="21.97" fill="#000" stroke="#000" stroke-width="0.22">1</text>
<text transform="matrix(1.1500,0,0,1.0000,243.68,767.90)" font-family="Liberation Serif" font-size="21.75" fill="#000" stroke="#000" stroke-width="0.22">0</text>
<text transform="matrix(0.9654,0,0,1.0000,257.01,762.00)" font-family="Liberation Serif" font-size="13.48" fill="#000" stroke="#000" stroke-width="0.22">1</text>
<text transform="matrix(0.9146,0,0,1.0000,324.41,767.90)" font-family="Liberation Serif" font-size="21.97" fill="#000" stroke="#000" stroke-width="0.22">1</text>
<text transform="matrix(1.1500,0,0,1.0000,336.40,767.90)" font-family="Liberation Serif" font-size="21.75" fill="#000" stroke="#000" stroke-width="0.22">0</text>
<rect x="350.1" y="757.2" width="7.3" height="1.2" fill="#000"/>
<text transform="matrix(0.9654,0,0,1.0000,359.42,762.00)" font-family="Liberation Serif" font-size="13.48" fill="#000" stroke="#000" stroke-width="0.22">1</text>
<path d="M442.47,759.50 L444.57,759.50 L444.57,775.30 L442.47,775.30 L442.47,763.70 L440.77,764.70 L438.77,765.20 L438.77,763.40 L440.37,762.80 L441.67,761.70Z" fill="#000"/>
<text transform="matrix(0.9146,0,0,1.0000,525.14,767.90)" font-family="Liberation Serif" font-size="21.97" fill="#000" stroke="#000" stroke-width="0.22">1</text>
<text transform="matrix(1.1500,0,0,1.0000,537.13,767.90)" font-family="Liberation Serif" font-size="21.75" fill="#000" stroke="#000" stroke-width="0.22">0</text>
<text transform="matrix(0.9654,0,0,1.0000,550.46,762.00)" font-family="Liberation Serif" font-size="13.48" fill="#000" stroke="#000" stroke-width="0.22">1</text>
<text transform="matrix(0.9146,0,0,1.0000,622.96,767.90)" font-family="Liberation Serif" font-size="21.97" fill="#000" stroke="#000" stroke-width="0.22">1</text>
<text transform="matrix(1.1500,0,0,1.0000,634.95,767.90)" font-family="Liberation Serif" font-size="21.75" fill="#000" stroke="#000" stroke-width="0.22">0</text>
<text transform="matrix(1.1500,0,0,1.0000,648.07,762.00)" font-family="Liberation Serif" font-size="13.42" fill="#000" stroke="#000" stroke-width="0.22">2</text>
<text transform="matrix(0.9953,0,0,1.0000,141.39,802.50)" font-family="Liberation Serif" font-size="20.36" fill="#000" stroke="#000" stroke-width="0.22">R</text>
<text transform="matrix(0.8648,0,0,1.0000,165.16,803.95)" font-family="Liberation Serif" font-size="25.89" fill="#000" stroke="#000" stroke-width="0.22">[</text>
<text transform="matrix(1.1500,0,0,1.0000,174.81,802.50)" font-family="Liberation Serif" font-size="21.49" fill="#000" stroke="#000" stroke-width="0.22">h</text>
<rect x="189.7" y="791.7" width="6.5" height="1.2" fill="#000"/>
<text transform="matrix(0.9654,0,0,1.0000,197.87,796.90)" font-family="Liberation Serif" font-size="13.48" fill="#000" stroke="#000" stroke-width="0.22">1</text>
<text transform="matrix(1.0997,0,0,1.0000,205.93,802.50)" font-family="Liberation Serif" font-size="20.36" fill="#000" stroke="#000" stroke-width="0.22">Mpc</text>
<text transform="matrix(0.8648,0,0,1.0000,249.48,803.95)" font-family="Liberation Serif" font-size="25.89" fill="#000" stroke="#000" stroke-width="0.22">]</text>
<text transform="matrix(0.9953,0,0,1.0000,434.59,802.50)" font-family="Liberation Serif" font-size="20.36" fill="#000" stroke="#000" stroke-width="0.22">R</text>
<text transform="matrix(0.8648,0,0,1.0000,458.36,803.95)" font-family="Liberation Serif" font-size="25.89" fill="#000" stroke="#000" stroke-width="0.22">[</text>
<text transform="matrix(1.1500,0,0,1.0000,468.01,802.50)" font-family="Liberation Serif" font-size="21.49" fill="#000" stroke="#000" stroke-width="0.22">h</text>
<rect x="482.9" y="791.7" width="6.5" height="1.2" fill="#000"/>
<text transform="matrix(0.9654,0,0,1.0000,491.07,796.90)" font-family="Liberation Serif" font-size="13.48" fill="#000" stroke="#000" stroke-width="0.22">1</text>
<text transform="matrix(1.0997,0,0,1.0000,499.13,802.50)" font-family="Liberation Serif" font-size="20.36" fill="#000" stroke="#000" stroke-width="0.22">Mpc</text>
<text transform="matrix(0.8648,0,0,1.0000,542.68,803.95)" font-family="Liberation Serif" font-size="25.89" fill="#000" stroke="#000" stroke-width="0.22">]</text>
<text transform="matrix(0.9503,0,0,1.0000,129.66,56.70)" font-family="Liberation Sans" font-size="23.40" fill="#000">SDSS QSOs</text>
<text transform="matrix(0.9518,0,0,1.0000,423.36,56.70)" font-family="Liberation Sans" font-size="23.40" fill="#000">SDSS QSOs</text>
<text transform="matrix(0.9867,0,0,1.0000,129.59,423.30)" font-family="Liberation Sans" font-size="22.53" fill="#000">2dF QSOs</text>
<text transform="matrix(0.9905,0,0,1.0000,423.51,424.10)" font-family="Liberation Sans" font-size="22.53" fill="#000">dark matter</text>
<text transform="matrix(1.0182,0,0,1.0000,285.46,45.20)" font-family="Liberation Sans" font-size="22.30" fill="#000">(a)</text>
<text transform="matrix(0.9895,0,0,1.0000,580.10,45.80)" font-family="Liberation Sans" font-size="22.30" fill="#000">(b)</text>
<text transform="matrix(1.0047,0,0,1.0000,286.38,411.20)" font-family="Liberation Sans" font-size="22.30" fill="#000">(c)</text>
<text transform="matrix(1.0100,0,0,1.0000,580.27,411.60)" font-family="Liberation Sans" font-size="22.30" fill="#000">(d)</text>
<text transform="matrix(1.0450,0,0,1.0000,75.75,228.20)" font-family="Liberation Sans" font-size="21.53" fill="#000">SCDM</text>
<text transform="matrix(1.0599,0,0,1.0000,368.94,228.60)" font-family="Liberation Sans" font-size="21.53" fill="#000">SCDM</text>
<text transform="matrix(1.0450,0,0,1.0000,75.75,594.00)" font-family="Liberation Sans" font-size="21.53" fill="#000">SCDM</text>
<text transform="matrix(1.0527,0,0,1.0000,369.76,619.10)" font-family="Liberation Sans" font-size="21.10" fill="#000">SDM</text>
<text transform="matrix(1.1007,0,0,1.0000,557.50,466.20)" font-family="Liberation Sans" font-size="20.38" fill="#ff00ff">z=0</text>
<text transform="matrix(1.0358,0,0,1.0000,557.54,490.70)" font-family="Liberation Sans" font-size="20.68" fill="#00ff00">z=1</text>
<text transform="matrix(1.1078,0,0,1.0000,557.50,515.10)" font-family="Liberation Sans" font-size="20.38" fill="#0000ff">z=2</text>
<text transform="matrix(0.7607,0,0,1.0000,169.58,100.10)" font-family="Liberation Serif" font-size="18.21" fill="#0000ff" stroke="#0000ff" stroke-width="0.3">M</text>
<text transform="matrix(1.0377,0,0,1.0000,183.52,105.30)" font-family="Liberation Serif" font-size="13.27" fill="#0000ff" stroke="#0000ff" stroke-width="0.3">lim</text>
<rect x="205.1" y="92.1" width="10.4" height="1.3" fill="#0000ff"/><rect x="205.1" y="96.3" width="10.4" height="1.3" fill="#0000ff"/>
<text transform="matrix(0.9104,0,0,1.0000,218.58,100.10)" font-family="Liberation Serif" font-size="18.03" fill="#0000ff" stroke="#0000ff" stroke-width="0.3">1</text>
<text transform="matrix(1.1500,0,0,1.0000,229.57,100.10)" font-family="Liberation Serif" font-size="17.85" fill="#0000ff" stroke="#0000ff" stroke-width="0.3">0</text>
<text transform="matrix(1.1198,0,0,1.0000,240.66,95.40)" font-family="Liberation Serif" font-size="11.76" fill="#0000ff" stroke="#0000ff" stroke-width="0.3">13</text>
<text transform="matrix(1.1500,0,0,1.0000,256.39,100.10)" font-family="Liberation Serif" font-size="18.61" fill="#0000ff" stroke="#0000ff" stroke-width="0.3">h</text>
<rect x="269.4" y="91.0" width="5.7" height="1.3" fill="#0000ff"/>
<text transform="matrix(0.9819,0,0,1.0000,276.39,95.40)" font-family="Liberation Serif" font-size="11.82" fill="#0000ff" stroke="#0000ff" stroke-width="0.3">1</text>
<text transform="matrix(0.8202,0,0,1.0000,283.35,100.10)" font-family="Liberation Serif" font-size="18.21" fill="#0000ff" stroke="#0000ff" stroke-width="0.3">M</text>
<circle cx="303.0" cy="102.2" r="3.6" fill="none" stroke="#0000ff" stroke-width="1.2"/><circle cx="303.0" cy="102.2" r="1.0" fill="#0000ff"/>
<text transform="matrix(0.9104,0,0,1.0000,218.58,124.00)" font-family="Liberation Serif" font-size="18.03" fill="#00ff00" stroke="#00ff00" stroke-width="0.3">1</text>
<text transform="matrix(1.1500,0,0,1.0000,229.57,124.00)" font-family="Liberation Serif" font-size="17.85" fill="#00ff00" stroke="#00ff00" stroke-width="0.3">0</text>
<text transform="matrix(1.1500,0,0,1.0000,240.62,119.30)" font-family="Liberation Serif" font-size="11.82" fill="#00ff00" letter-spacing="0.35" stroke="#00ff00" stroke-width="0.3">11</text>
<text transform="matrix(1.1500,0,0,1.0000,256.39,124.00)" font-family="Liberation Serif" font-size="18.61" fill="#00ff00" stroke="#00ff00" stroke-width="0.3">h</text>
<rect x="269.4" y="114.9" width="5.7" height="1.3" fill="#00ff00"/>
<text transform="matrix(0.9819,0,0,1.0000,276.39,119.30)" font-family="Liberation Serif" font-size="11.82" fill="#00ff00" stroke="#00ff00" stroke-width="0.3">1</text>
<text transform="matrix(0.8202,0,0,1.0000,283.35,124.00)" font-family="Liberation Serif" font-size="18.21" fill="#00ff00" stroke="#00ff00" stroke-width="0.3">M</text>
<circle cx="303.0" cy="126.1" r="3.6" fill="none" stroke="#00ff00" stroke-width="1.2"/><circle cx="303.0" cy="126.1" r="1.0" fill="#00ff00"/>
<text transform="matrix(0.9104,0,0,1.0000,218.58,147.80)" font-family="Liberation Serif" font-size="18.03" fill="#ff00ff" stroke="#ff00ff" stroke-width="0.3">1</text>
<text transform="matrix(1.1500,0,0,1.0000,229.57,147.80)" font-family="Liberation Serif" font-size="17.85" fill="#ff00ff" stroke="#ff00ff" stroke-width="0.3">0</text>
<text transform="matrix(1.0963,0,0,1.0000,241.47,143.10)" font-family="Liberation Serif" font-size="11.76" fill="#ff00ff" stroke="#ff00ff" stroke-width="0.3">9</text>
<text transform="matrix(1.1500,0,0,1.0000,249.69,147.80)" font-family="Liberation Serif" font-size="18.61" fill="#ff00ff" stroke="#ff00ff" stroke-width="0.3">h</text>
<rect x="262.7" y="138.8" width="5.7" height="1.3" fill="#ff00ff"/>
<text transform="matrix(0.9819,0,0,1.0000,269.69,143.10)" font-family="Liberation Serif" font-size="11.82" fill="#ff00ff" stroke="#ff00ff" stroke-width="0.3">1</text>
<text transform="matrix(0.8202,0,0,1.0000,276.65,147.80)" font-family="Liberation Serif" font-size="18.21" fill="#ff00ff" stroke="#ff00ff" stroke-width="0.3">M</text>
<circle cx="296.3" cy="149.9" r="3.6" fill="none" stroke="#ff00ff" stroke-width="1.2"/><circle cx="296.3" cy="149.9" r="1.0" fill="#ff00ff"/>
<text transform="matrix(0.7607,0,0,1.0000,463.28,100.10)" font-family="Liberation Serif" font-size="18.21" fill="#0000ff" stroke="#0000ff" stroke-width="0.3">M</text>
<text transform="matrix(1.0377,0,0,1.0000,477.22,105.30)" font-family="Liberation Serif" font-size="13.27" fill="#0000ff" stroke="#0000ff" stroke-width="0.3">lim</text>
<rect x="498.8" y="92.1" width="10.4" height="1.3" fill="#0000ff"/><rect x="498.8" y="96.3" width="10.4" height="1.3" fill="#0000ff"/>
<text transform="matrix(0.9104,0,0,1.0000,512.28,100.10)" font-family="Liberation Serif" font-size="18.03" fill="#0000ff" stroke="#0000ff" stroke-width="0.3">1</text>
<text transform="matrix(1.1500,0,0,1.0000,523.27,100.10)" font-family="Liberation Serif" font-size="17.85" fill="#0000ff" stroke="#0000ff" stroke-width="0.3">0</text>
<text transform="matrix(1.1198,0,0,1.0000,534.36,95.40)" font-family="Liberation Serif" font-size="11.76" fill="#0000ff" stroke="#0000ff" stroke-width="0.3">13</text>
<text transform="matrix(1.1500,0,0,1.0000,550.09,100.10)" font-family="Liberation Serif" font-size="18.61" fill="#0000ff" stroke="#0000ff" stroke-width="0.3">h</text>
<rect x="563.1" y="91.0" width="5.7" height="1.3" fill="#0000ff"/>
<text transform="matrix(0.9819,0,0,1.0000,570.09,95.40)" font-family="Liberation Serif" font-size="11.82" fill="#0000ff" stroke="#0000ff" stroke-width="0.3">1</text>
<text transform="matrix(0.8202,0,0,1.0000,577.05,100.10)" font-family="Liberation Serif" font-size="18.21" fill="#0000ff" stroke="#0000ff" stroke-width="0.3">M</text>
<circle cx="596.7" cy="102.2" r="3.6" fill="none" stroke="#0000ff" stroke-width="1.2"/><circle cx="596.7" cy="102.2" r="1.0" fill="#0000ff"/>
<text transform="matrix(0.9104,0,0,1.0000,512.28,124.00)" font-family="Liberation Serif" font-size="18.03" fill="#00ff00" stroke="#00ff00" stroke-width="0.3">1</text>
<text transform="matrix(1.1500,0,0,1.0000,523.27,124.00)" font-family="Liberation Serif" font-size="17.85" fill="#00ff00" stroke="#00ff00" stroke-width="0.3">0</text>
<text transform="matrix(1.1500,0,0,1.0000,534.32,119.30)" font-family="Liberation Serif" font-size="11.82" fill="#00ff00" letter-spacing="0.35" stroke="#00ff00" stroke-width="0.3">11</text>
<text transform="matrix(1.1500,0,0,1.0000,550.09,124.00)" font-family="Liberation Serif" font-size="18.61" fill="#00ff00" stroke="#00ff00" stroke-width="0.3">h</text>
<rect x="563.1" y="114.9" width="5.7" height="1.3" fill="#00ff00"/>
<text transform="matrix(0.9819,0,0,1.0000,570.09,119.30)" font-family="Liberation Serif" font-size="11.82" fill="#00ff00" stroke="#00ff00" stroke-width="0.3">1</text>
<text transform="matrix(0.8202,0,0,1.0000,577.05,124.00)" font-family="Liberation Serif" font-size="18.21" fill="#00ff00" stroke="#00ff00" stroke-width="0.3">M</text>
<circle cx="596.7" cy="126.1" r="3.6" fill="none" stroke="#00ff00" stroke-width="1.2"/><circle cx="596.7" cy="126.1" r="1.0" fill="#00ff00"/>
<text transform="matrix(0.9104,0,0,1.0000,512.28,147.80)" font-family="Liberation Serif" font-size="18.03" fill="#ff00ff" stroke="#ff00ff" stroke-width="0.3">1</text>
<text transform="matrix(1.1500,0,0,1.0000,523.27,147.80)" font-family="Liberation Serif" font-size="17.85" fill="#ff00ff" stroke="#ff00ff" stroke-width="0.3">0</text>
<text transform="matrix(1.0963,0,0,1.0000,535.17,143.10)" font-family="Liberation Serif" font-size="11.76" fill="#ff00ff" stroke="#ff00ff" stroke-width="0.3">9</text>
<text transform="matrix(1.1500,0,0,1.0000,543.39,147.80)" font-family="Liberation Serif" font-size="18.61" fill="#ff00ff" stroke="#ff00ff" stroke-width="0.3">h</text>
<rect x="556.4" y="138.8" width="5.7" height="1.3" fill="#ff00ff"/>
<text transform="matrix(0.9819,0,0,1.0000,563.39,143.10)" font-family="Liberation Serif" font-size="11.82" fill="#ff00ff" stroke="#ff00ff" stroke-width="0.3">1</text>
<text transform="matrix(0.8202,0,0,1.0000,570.35,147.80)" font-family="Liberation Serif" font-size="18.21" fill="#ff00ff" stroke="#ff00ff" stroke-width="0.3">M</text>
<circle cx="590.0" cy="149.9" r="3.6" fill="none" stroke="#ff00ff" stroke-width="1.2"/><circle cx="590.0" cy="149.9" r="1.0" fill="#ff00ff"/>
<text transform="matrix(0.7607,0,0,1.0000,169.58,466.80)" font-family="Liberation Serif" font-size="18.21" fill="#0000ff" stroke="#0000ff" stroke-width="0.3">M</text>
<text transform="matrix(1.0377,0,0,1.0000,183.52,472.00)" font-family="Liberation Serif" font-size="13.27" fill="#0000ff" stroke="#0000ff" stroke-width="0.3">lim</text>
<rect x="205.1" y="458.9" width="10.4" height="1.3" fill="#0000ff"/><rect x="205.1" y="463.1" width="10.4" height="1.3" fill="#0000ff"/>
<text transform="matrix(0.9104,0,0,1.0000,218.58,466.80)" font-family="Liberation Serif" font-size="18.03" fill="#0000ff" stroke="#0000ff" stroke-width="0.3">1</text>
<text transform="matrix(1.1500,0,0,1.0000,229.57,466.80)" font-family="Liberation Serif" font-size="17.85" fill="#0000ff" stroke="#0000ff" stroke-width="0.3">0</text>
<text transform="matrix(1.1198,0,0,1.0000,240.66,462.10)" font-family="Liberation Serif" font-size="11.76" fill="#0000ff" stroke="#0000ff" stroke-width="0.3">13</text>
<text transform="matrix(1.1500,0,0,1.0000,256.39,466.80)" font-family="Liberation Serif" font-size="18.61" fill="#0000ff" stroke="#0000ff" stroke-width="0.3">h</text>
<rect x="269.4" y="457.8" width="5.7" height="1.3" fill="#0000ff"/>
<text transform="matrix(0.9819,0,0,1.0000,276.39,462.10)" font-family="Liberation Serif" font-size="11.82" fill="#0000ff" stroke="#0000ff" stroke-width="0.3">1</text>
<text transform="matrix(0.8202,0,0,1.0000,283.35,466.80)" font-family="Liberation Serif" font-size="18.21" fill="#0000ff" stroke="#0000ff" stroke-width="0.3">M</text>
<circle cx="303.0" cy="468.9" r="3.6" fill="none" stroke="#0000ff" stroke-width="1.2"/><circle cx="303.0" cy="468.9" r="1.0" fill="#0000ff"/>
<text transform="matrix(0.9104,0,0,1.0000,218.58,490.70)" font-family="Liberation Serif" font-size="18.03" fill="#00ff00" stroke="#00ff00" stroke-width="0.3">1</text>
<text transform="matrix(1.1500,0,0,1.0000,229.57,490.70)" font-family="Liberation Serif" font-size="17.85" fill="#00ff00" stroke="#00ff00" stroke-width="0.3">0</text>
<text transform="matrix(1.1500,0,0,1.0000,240.62,486.00)" font-family="Liberation Serif" font-size="11.82" fill="#00ff00" letter-spacing="0.35" stroke="#00ff00" stroke-width="0.3">11</text>
<text transform="matrix(1.1500,0,0,1.0000,256.39,490.70)" font-family="Liberation Serif" font-size="18.61" fill="#00ff00" stroke="#00ff00" stroke-width="0.3">h</text>
<rect x="269.4" y="481.7" width="5.7" height="1.3" fill="#00ff00"/>
<text transform="matrix(0.9819,0,0,1.0000,276.39,486.00)" font-family="Liberation Serif" font-size="11.82" fill="#00ff00" stroke="#00ff00" stroke-width="0.3">1</text>
<text transform="matrix(0.8202,0,0,1.0000,283.35,490.70)" font-family="Liberation Serif" font-size="18.21" fill="#00ff00" stroke="#00ff00" stroke-width="0.3">M</text>
<circle cx="303.0" cy="492.8" r="3.6" fill="none" stroke="#00ff00" stroke-width="1.2"/><circle cx="303.0" cy="492.8" r="1.0" fill="#00ff00"/>
<text transform="matrix(0.9104,0,0,1.0000,218.58,514.50)" font-family="Liberation Serif" font-size="18.03" fill="#ff00ff" stroke="#ff00ff" stroke-width="0.3">1</text>
<text transform="matrix(1.1500,0,0,1.0000,229.57,514.50)" font-family="Liberation Serif" font-size="17.85" fill="#ff00ff" stroke="#ff00ff" stroke-width="0.3">0</text>
<text transform="matrix(1.0963,0,0,1.0000,241.47,509.80)" font-family="Liberation Serif" font-size="11.76" fill="#ff00ff" stroke="#ff00ff" stroke-width="0.3">9</text>
<text transform="matrix(1.1500,0,0,1.0000,249.69,514.50)" font-family="Liberation Serif" font-size="18.61" fill="#ff00ff" stroke="#ff00ff" stroke-width="0.3">h</text>
<rect x="262.7" y="505.5" width="5.7" height="1.3" fill="#ff00ff"/>
<text transform="matrix(0.9819,0,0,1.0000,269.69,509.80)" font-family="Liberation Serif" font-size="11.82" fill="#ff00ff" stroke="#ff00ff" stroke-width="0.3">1</text>
<text transform="matrix(0.8202,0,0,1.0000,276.65,514.50)" font-family="Liberation Serif" font-size="18.21" fill="#ff00ff" stroke="#ff00ff" stroke-width="0.3">M</text>
<circle cx="296.3" cy="516.6" r="3.6" fill="none" stroke="#ff00ff" stroke-width="1.2"/><circle cx="296.3" cy="516.6" r="1.0" fill="#ff00ff"/>
<text transform="matrix(1.1500,0,0,1.0000,77.10,252.80)" font-family="Liberation Serif" font-size="16.65" fill="#000" stroke="#000" stroke-width="0.25" font-style="italic">σ</text>
<text transform="matrix(1.1293,0,0,1.0000,87.77,258.40)" font-family="Liberation Serif" font-size="14.10" fill="#000" font-weight="bold">8</text>
<rect x="97.5" y="245.0" width="10.3" height="1.2" fill="#000"/><rect x="97.5" y="249.0" width="10.3" height="1.2" fill="#000"/>
<text transform="matrix(1.1500,0,0,1.0000,110.05,252.80)" font-family="Liberation Serif" font-size="17.70" fill="#000" letter-spacing="1.37" stroke="#000" stroke-width="0.25">0.56</text>
<text transform="matrix(0.9738,0,0,1.0000,75.98,277.80)" font-family="Liberation Serif" font-size="18.99" fill="#000" stroke="#000" stroke-width="0.25">Ω</text>
<text transform="matrix(1.0530,0,0,1.0000,88.97,283.20)" font-family="Liberation Serif" font-size="13.80" fill="#000" font-weight="bold">0</text>
<rect x="98.0" y="270.0" width="10.5" height="1.2" fill="#000"/><rect x="98.0" y="274.0" width="10.5" height="1.2" fill="#000"/>
<text transform="matrix(1.1500,0,0,1.0000,111.84,277.80)" font-family="Liberation Serif" font-size="17.70" fill="#000" letter-spacing="0.82" stroke="#000" stroke-width="0.25">1.0,</text>
<text transform="matrix(1.1500,0,0,1.0000,156.40,277.80)" font-family="Liberation Serif" font-size="18.75" fill="#000" stroke="#000" stroke-width="0.25">h</text>
<rect x="170.5" y="270.0" width="10.7" height="1.2" fill="#000"/><rect x="170.5" y="274.0" width="10.7" height="1.2" fill="#000"/>
<text transform="matrix(1.1500,0,0,1.0000,183.45,277.80)" font-family="Liberation Serif" font-size="17.70" fill="#000" letter-spacing="1.01" stroke="#000" stroke-width="0.25">0.5</text>
<text transform="matrix(1.1500,0,0,1.0000,76.15,301.40)" font-family="Liberation Serif" font-size="17.70" fill="#000" letter-spacing="1.09" stroke="#000" stroke-width="0.25">0.3</text>
<text transform="matrix(1.1500,0,0,1.0000,104.82,302.96)" font-family="Liberation Serif" font-size="21.72" fill="#000" stroke="#000" stroke-width="0.25">&lt;</text>
<text transform="matrix(1.1500,0,0,1.0000,120.33,301.40)" font-family="Liberation Serif" font-size="19.50" fill="#000" stroke="#000" stroke-width="0.25">z</text>
<text transform="matrix(1.1500,0,0,1.0000,131.37,302.96)" font-family="Liberation Serif" font-size="21.72" fill="#000" stroke="#000" stroke-width="0.25">&lt;</text>
<text transform="matrix(1.0982,0,0,1.0000,144.58,301.40)" font-family="Liberation Serif" font-size="18.06" fill="#000" stroke="#000" stroke-width="0.25">5</text>
<text transform="matrix(0.9585,0,0,1.0000,76.38,325.90)" font-family="Liberation Serif" font-size="18.21" fill="#000" stroke="#000" stroke-width="0.25">B</text>
<text transform="matrix(1.0424,0,0,1.0000,89.24,331.20)" font-family="Liberation Serif" font-size="12.69" fill="#000" stroke="#000" stroke-width="0.45">lim</text>
<rect x="109.4" y="318.1" width="10.6" height="1.2" fill="#000"/><rect x="109.4" y="322.1" width="10.6" height="1.2" fill="#000"/>
<text transform="matrix(1.1500,0,0,1.0000,123.02,325.90)" font-family="Liberation Serif" font-size="17.70" fill="#000" letter-spacing="1.45" stroke="#000" stroke-width="0.25">20.0</text>
<text transform="matrix(1.1500,0,0,1.0000,77.10,619.20)" font-family="Liberation Serif" font-size="16.65" fill="#000" stroke="#000" stroke-width="0.25" font-style="italic">σ</text>
<text transform="matrix(1.1293,0,0,1.0000,87.77,624.80)" font-family="Liberation Serif" font-size="14.10" fill="#000" font-weight="bold">8</text>
<rect x="97.5" y="611.4" width="10.3" height="1.2" fill="#000"/><rect x="97.5" y="615.4" width="10.3" height="1.2" fill="#000"/>
<text transform="matrix(1.1500,0,0,1.0000,110.05,619.20)" font-family="Liberation Serif" font-size="17.70" fill="#000" letter-spacing="1.37" stroke="#000" stroke-width="0.25">0.56</text>
<text transform="matrix(0.9738,0,0,1.0000,75.98,644.20)" font-family="Liberation Serif" font-size="18.99" fill="#000" stroke="#000" stroke-width="0.25">Ω</text>
<text transform="matrix(1.0530,0,0,1.0000,88.97,649.60)" font-family="Liberation Serif" font-size="13.80" fill="#000" font-weight="bold">0</text>
<rect x="98.0" y="636.4" width="10.5" height="1.2" fill="#000"/><rect x="98.0" y="640.4" width="10.5" height="1.2" fill="#000"/>
<text transform="matrix(1.1500,0,0,1.0000,111.84,644.20)" font-family="Liberation Serif" font-size="17.70" fill="#000" letter-spacing="0.82" stroke="#000" stroke-width="0.25">1.0,</text>
<text transform="matrix(1.1500,0,0,1.0000,156.40,644.20)" font-family="Liberation Serif" font-size="18.75" fill="#000" stroke="#000" stroke-width="0.25">h</text>
<rect x="170.5" y="636.4" width="10.7" height="1.2" fill="#000"/><rect x="170.5" y="640.4" width="10.7" height="1.2" fill="#000"/>
<text transform="matrix(1.1500,0,0,1.0000,183.45,644.20)" font-family="Liberation Serif" font-size="17.70" fill="#000" letter-spacing="1.01" stroke="#000" stroke-width="0.25">0.5</text>
<text transform="matrix(1.1500,0,0,1.0000,76.15,668.00)" font-family="Liberation Serif" font-size="17.70" fill="#000" letter-spacing="1.09" stroke="#000" stroke-width="0.25">0.3</text>
<text transform="matrix(1.1500,0,0,1.0000,104.82,669.56)" font-family="Liberation Serif" font-size="21.72" fill="#000" stroke="#000" stroke-width="0.25">&lt;</text>
<text transform="matrix(1.1500,0,0,1.0000,120.33,668.00)" font-family="Liberation Serif" font-size="19.50" fill="#000" stroke="#000" stroke-width="0.25">z</text>
<text transform="matrix(1.1500,0,0,1.0000,131.37,669.56)" font-family="Liberation Serif" font-size="21.72" fill="#000" stroke="#000" stroke-width="0.25">&lt;</text>
<text transform="matrix(1.0880,0,0,1.0000,144.80,668.00)" font-family="Liberation Serif" font-size="17.79" fill="#000" stroke="#000" stroke-width="0.25">3</text>
<text transform="matrix(0.9585,0,0,1.0000,76.38,692.50)" font-family="Liberation Serif" font-size="18.21" fill="#000" stroke="#000" stroke-width="0.25">B</text>
<text transform="matrix(1.0424,0,0,1.0000,89.24,697.80)" font-family="Liberation Serif" font-size="12.69" fill="#000" stroke="#000" stroke-width="0.45">lim</text>
<rect x="109.4" y="684.7" width="10.6" height="1.2" fill="#000"/><rect x="109.4" y="688.7" width="10.6" height="1.2" fill="#000"/>
<text transform="matrix(1.1500,0,0,1.0000,123.02,692.50)" font-family="Liberation Serif" font-size="17.70" fill="#000" letter-spacing="1.26" stroke="#000" stroke-width="0.25">20.85</text>
<text transform="matrix(1.1500,0,0,1.0000,370.90,253.20)" font-family="Liberation Serif" font-size="16.65" fill="#000" stroke="#000" stroke-width="0.25" font-style="italic">σ</text>
<text transform="matrix(1.1293,0,0,1.0000,381.57,258.80)" font-family="Liberation Serif" font-size="14.10" fill="#000" font-weight="bold">8</text>
<rect x="391.3" y="245.4" width="10.3" height="1.2" fill="#000"/><rect x="391.3" y="249.4" width="10.3" height="1.2" fill="#000"/>
<text transform="matrix(1.1500,0,0,1.0000,403.85,253.20)" font-family="Liberation Serif" font-size="17.70" fill="#000" letter-spacing="1.37" stroke="#000" stroke-width="0.25">0.56</text>
<text transform="matrix(0.9738,0,0,1.0000,369.78,277.80)" font-family="Liberation Serif" font-size="18.99" fill="#000" stroke="#000" stroke-width="0.25">Ω</text>
<text transform="matrix(1.0530,0,0,1.0000,382.77,283.20)" font-family="Liberation Serif" font-size="13.80" fill="#000" font-weight="bold">0</text>
<rect x="391.8" y="270.0" width="10.5" height="1.2" fill="#000"/><rect x="391.8" y="274.0" width="10.5" height="1.2" fill="#000"/>
<text transform="matrix(1.1500,0,0,1.0000,405.64,277.80)" font-family="Liberation Serif" font-size="17.70" fill="#000" letter-spacing="0.82" stroke="#000" stroke-width="0.25">1.0,</text>
<text transform="matrix(1.1500,0,0,1.0000,450.20,277.80)" font-family="Liberation Serif" font-size="18.75" fill="#000" stroke="#000" stroke-width="0.25">h</text>
<rect x="464.3" y="270.0" width="10.7" height="1.2" fill="#000"/><rect x="464.3" y="274.0" width="10.7" height="1.2" fill="#000"/>
<text transform="matrix(1.1500,0,0,1.0000,477.25,277.80)" font-family="Liberation Serif" font-size="17.70" fill="#000" letter-spacing="1.01" stroke="#000" stroke-width="0.25">0.5</text>
<text transform="matrix(1.1500,0,0,1.0000,370.70,301.50)" font-family="Liberation Serif" font-size="19.50" fill="#000" letter-spacing="1.03" stroke="#000" stroke-width="0.25">upper:</text>
<text transform="matrix(1.1500,0,0,1.0000,443.25,301.50)" font-family="Liberation Serif" font-size="17.70" fill="#000" letter-spacing="1.09" stroke="#000" stroke-width="0.25">0.3</text>
<text transform="matrix(1.1500,0,0,1.0000,471.92,303.06)" font-family="Liberation Serif" font-size="21.72" fill="#000" stroke="#000" stroke-width="0.25">&lt;</text>
<text transform="matrix(1.1500,0,0,1.0000,487.43,301.50)" font-family="Liberation Serif" font-size="19.50" fill="#000" stroke="#000" stroke-width="0.25">z</text>
<text transform="matrix(1.1500,0,0,1.0000,498.47,303.06)" font-family="Liberation Serif" font-size="21.72" fill="#000" stroke="#000" stroke-width="0.25">&lt;</text>
<text transform="matrix(1.0982,0,0,1.0000,511.68,301.50)" font-family="Liberation Serif" font-size="18.06" fill="#000" stroke="#000" stroke-width="0.25">5</text>
<text transform="matrix(1.1500,0,0,1.0000,370.55,325.40)" font-family="Liberation Serif" font-size="19.50" fill="#000" letter-spacing="0.15" stroke="#000" stroke-width="0.25">lower:</text>
<text transform="matrix(1.1500,0,0,1.0000,437.85,325.40)" font-family="Liberation Serif" font-size="17.70" fill="#000" letter-spacing="1.09" stroke="#000" stroke-width="0.25">0.3</text>
<text transform="matrix(1.1500,0,0,1.0000,466.52,326.96)" font-family="Liberation Serif" font-size="21.72" fill="#000" stroke="#000" stroke-width="0.25">&lt;</text>
<text transform="matrix(1.1500,0,0,1.0000,482.03,325.40)" font-family="Liberation Serif" font-size="19.50" fill="#000" stroke="#000" stroke-width="0.25">z</text>
<text transform="matrix(1.1500,0,0,1.0000,493.07,326.96)" font-family="Liberation Serif" font-size="21.72" fill="#000" stroke="#000" stroke-width="0.25">&lt;</text>
<text transform="matrix(1.0880,0,0,1.0000,506.50,325.40)" font-family="Liberation Serif" font-size="17.79" fill="#000" stroke="#000" stroke-width="0.25">3</text>
<text transform="matrix(0.9585,0,0,1.0000,370.48,350.20)" font-family="Liberation Serif" font-size="18.21" fill="#000" stroke="#000" stroke-width="0.25">B</text>
<text transform="matrix(1.0424,0,0,1.0000,383.34,355.50)" font-family="Liberation Serif" font-size="12.69" fill="#000" stroke="#000" stroke-width="0.45">lim</text>
<rect x="403.5" y="342.4" width="10.6" height="1.2" fill="#000"/><rect x="403.5" y="346.4" width="10.6" height="1.2" fill="#000"/>
<text transform="matrix(1.1500,0,0,1.0000,417.12,350.20)" font-family="Liberation Serif" font-size="17.70" fill="#000" letter-spacing="1.45" stroke="#000" stroke-width="0.25">20.0</text>
<text transform="matrix(1.1500,0,0,1.0000,360.43,656.50)" font-family="Liberation Serif" font-size="17.50" fill="#000" letter-spacing="0.17" stroke="#000" stroke-width="0.12">upper:</text>
<text transform="matrix(1.1500,0,0,1.0000,424.03,656.50)" font-family="Liberation Serif" font-size="17.50" fill="#000" letter-spacing="1.00" stroke="#000" stroke-width="0.12">nonlinear</text>
<text transform="matrix(1.0970,0,0,1.0000,360.32,680.30)" font-family="Liberation Serif" font-size="17.50" fill="#000" stroke="#000" stroke-width="0.12">lower:</text>
<text transform="matrix(1.1500,0,0,1.0000,420.10,680.30)" font-family="Liberation Serif" font-size="17.50" fill="#000" letter-spacing="0.99" stroke="#000" stroke-width="0.12">linear</text>
<text transform="matrix(1.0137,0,0,1.0000,176.48,352.78)" font-family="Liberation Serif" font-size="30.11" fill="#000">ξ</text>
<text transform="matrix(1.0654,0,0,1.0000,191.64,341.30)" font-family="Liberation Serif" font-size="14.47" fill="#000" stroke="#000" stroke-width="0.3">LC</text>
<text transform="matrix(0.9437,0,0,1.0000,191.96,359.50)" font-family="Liberation Serif" font-size="14.55" fill="#000" stroke="#000" stroke-width="0.3">A</text>
<text transform="matrix(0.9172,0,0,1.0000,213.75,350.09)" font-family="Liberation Serif" font-size="31.43" fill="#000">(</text>
<text transform="matrix(1.1024,0,0,1.0000,225.11,350.70)" font-family="Liberation Serif" font-size="26.79" fill="#000">R</text>
<text transform="matrix(0.9172,0,0,1.0000,247.04,350.09)" font-family="Liberation Serif" font-size="31.43" fill="#000">)</text>
<text transform="matrix(1.0137,0,0,1.0000,176.48,719.88)" font-family="Liberation Serif" font-size="30.11" fill="#000">ξ</text>
<text transform="matrix(1.0654,0,0,1.0000,191.64,708.40)" font-family="Liberation Serif" font-size="14.47" fill="#000" stroke="#000" stroke-width="0.3">LC</text>
<text transform="matrix(0.9437,0,0,1.0000,191.96,726.60)" font-family="Liberation Serif" font-size="14.55" fill="#000" stroke="#000" stroke-width="0.3">A</text>
<text transform="matrix(0.9172,0,0,1.0000,213.75,717.19)" font-family="Liberation Serif" font-size="31.43" fill="#000">(</text>
<text transform="matrix(1.1024,0,0,1.0000,225.11,717.80)" font-family="Liberation Serif" font-size="26.79" fill="#000">R</text>
<text transform="matrix(0.9172,0,0,1.0000,247.04,717.19)" font-family="Liberation Serif" font-size="31.43" fill="#000">)</text>
<text transform="matrix(1.0137,0,0,1.0000,541.28,346.28)" font-family="Liberation Serif" font-size="30.11" fill="#000">ξ</text>
<text transform="matrix(1.0654,0,0,1.0000,556.44,334.80)" font-family="Liberation Serif" font-size="14.47" fill="#000" stroke="#000" stroke-width="0.3">LC</text>
<text transform="matrix(1.1189,0,0,1.0000,556.41,353.00)" font-family="Liberation Serif" font-size="14.69" fill="#000" stroke="#000" stroke-width="0.3">B</text>
<text transform="matrix(0.9172,0,0,1.0000,578.55,343.59)" font-family="Liberation Serif" font-size="31.43" fill="#000">(</text>
<text transform="matrix(1.1024,0,0,1.0000,589.91,344.20)" font-family="Liberation Serif" font-size="26.79" fill="#000">R</text>
<text transform="matrix(0.9172,0,0,1.0000,611.84,343.59)" font-family="Liberation Serif" font-size="31.43" fill="#000">)</text>
<text transform="matrix(1.0708,0,0,1.0000,394.65,713.12)" font-family="Liberation Serif" font-size="27.03" fill="#000">ξ</text>
<text transform="matrix(1.1500,0,0,1.0000,409.41,719.10)" font-family="Liberation Serif" font-size="17.00" fill="#000" letter-spacing="2.32" stroke="#000" stroke-width="0.2">mass</text>
<text transform="matrix(0.8674,0,0,1.0000,457.54,711.29)" font-family="Liberation Serif" font-size="30.99" fill="#000">(</text>
<text transform="matrix(1.1500,0,0,1.0000,469.39,712.30)" font-family="Liberation Serif" font-size="26.48" fill="#000">R</text>
<text transform="matrix(0.9231,0,0,1.0000,491.62,712.30)" font-family="Liberation Serif" font-size="26.00" fill="#000">,</text>
<text transform="matrix(1.1500,0,0,1.0000,499.67,712.30)" font-family="Liberation Serif" font-size="27.00" fill="#000">z</text>
<text transform="matrix(0.9177,0,0,1.0000,515.95,711.29)" font-family="Liberation Serif" font-size="30.99" fill="#000">)</text>
</g>
</svg>
</body></html>
